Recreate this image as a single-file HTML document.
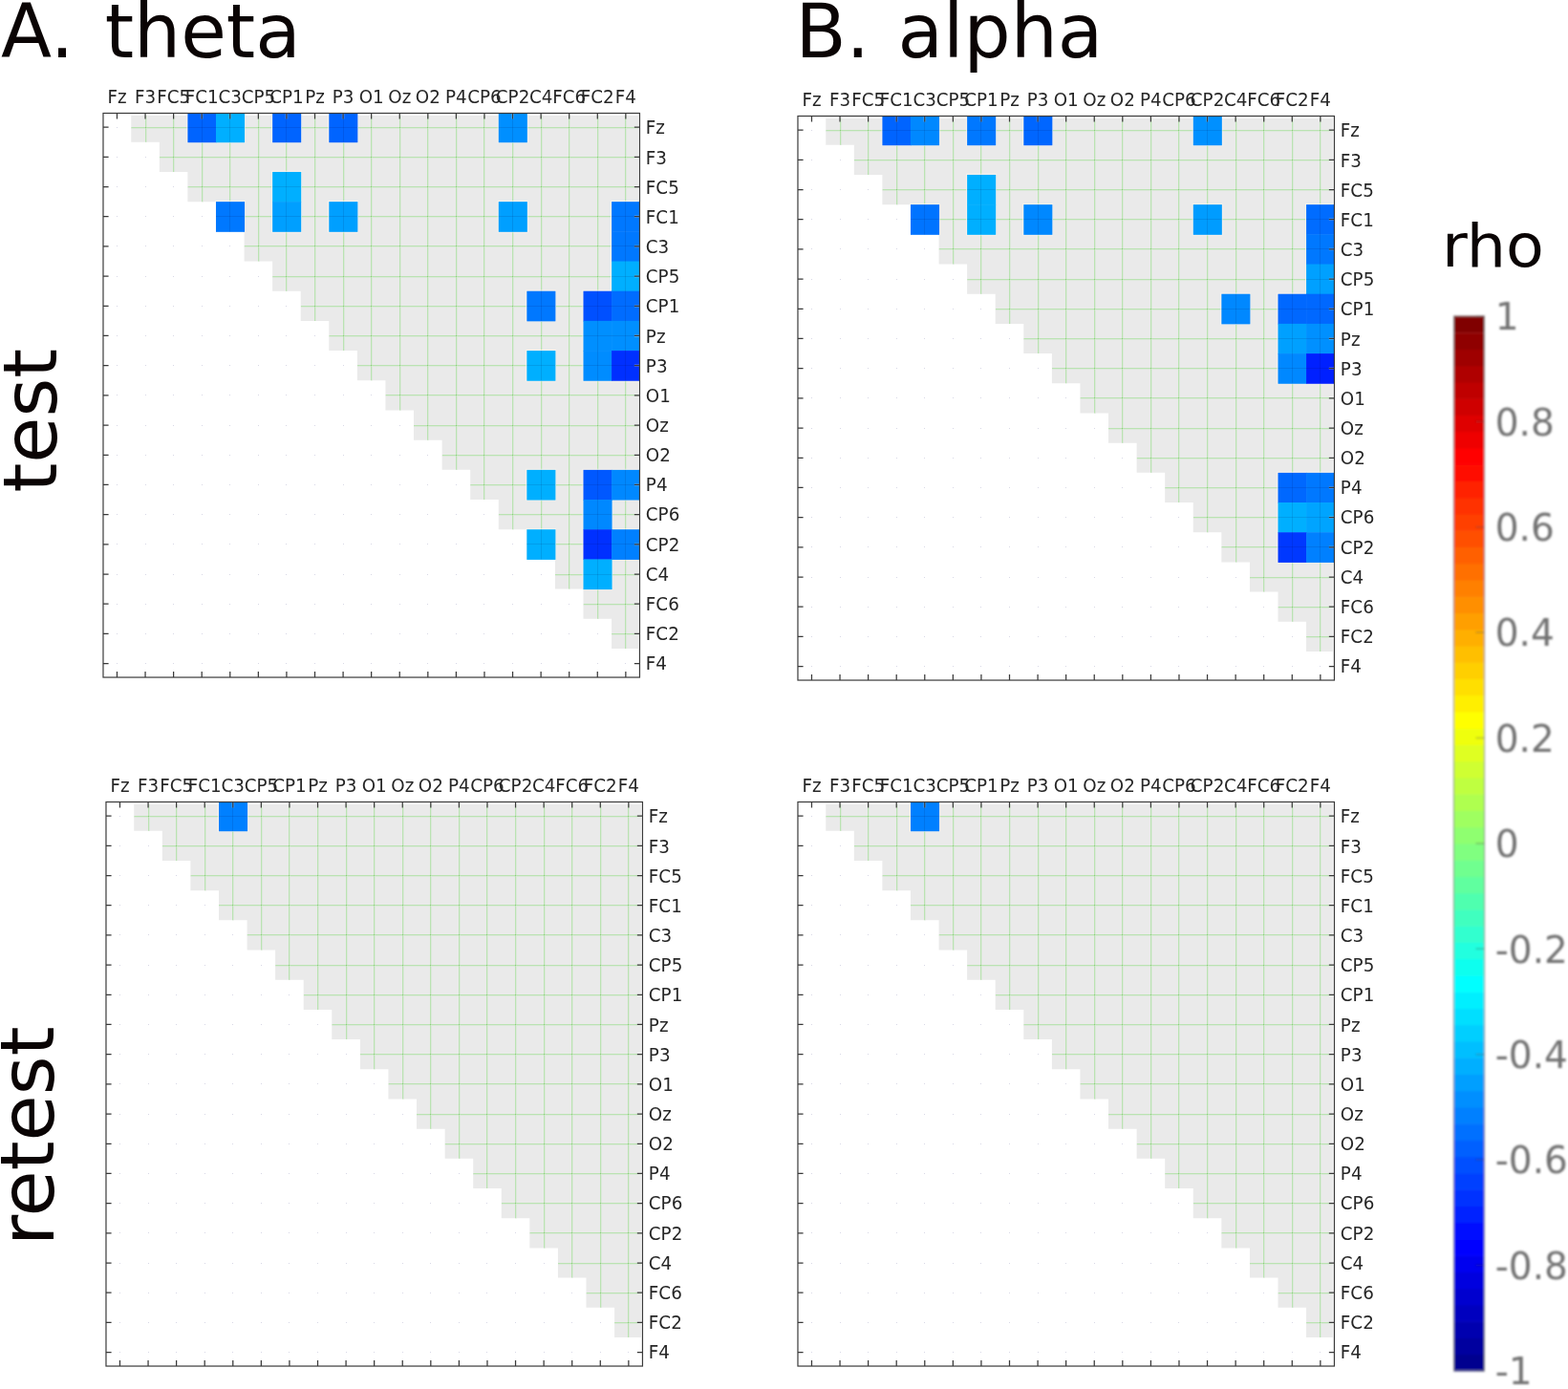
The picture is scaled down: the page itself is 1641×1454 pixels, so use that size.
<!DOCTYPE html><html><head><meta charset="utf-8"><title>theta alpha test retest</title><style>html,body{margin:0;padding:0;background:#fff;overflow:hidden}svg{display:block}text{font-family:'DejaVu Sans','Liberation Sans',sans-serif}</style></head><body>
<svg width="1641" height="1454" viewBox="0 0 1641 1454">
<defs><filter id="bl" x="-10%" y="-2%" width="120%" height="104%"><feGaussianBlur stdDeviation="1.15"/></filter><filter id="bl2" x="-10%" y="-10%" width="120%" height="120%"><feGaussianBlur stdDeviation="0.95"/></filter></defs>
<clipPath id="cAt"><polygon points="137.26,121 667.85,121 667.85,678.99 669.65,678.99 640.07,678.99 640.07,647.8 610.49,647.8 610.49,616.61 580.92,616.61 580.92,585.42 551.34,585.42 551.34,554.23 521.76,554.23 521.76,523.04 492.19,523.04 492.19,491.85 462.61,491.85 462.61,460.66 433.03,460.66 433.03,429.47 403.45,429.47 403.45,398.27 373.88,398.27 373.88,367.08 344.3,367.08 344.3,335.89 314.72,335.89 314.72,304.7 285.14,304.7 285.14,273.51 255.57,273.51 255.57,242.32 225.99,242.32 225.99,211.13 196.41,211.13 196.41,179.94 166.84,179.94 166.84,148.75 137.26,148.75 137.26,121"/></clipPath>
<polygon points="137.26,121 667.85,121 667.85,678.99 669.65,678.99 640.07,678.99 640.07,647.8 610.49,647.8 610.49,616.61 580.92,616.61 580.92,585.42 551.34,585.42 551.34,554.23 521.76,554.23 521.76,523.04 492.19,523.04 492.19,491.85 462.61,491.85 462.61,460.66 433.03,460.66 433.03,429.47 403.45,429.47 403.45,398.27 373.88,398.27 373.88,367.08 344.3,367.08 344.3,335.89 314.72,335.89 314.72,304.7 285.14,304.7 285.14,273.51 255.57,273.51 255.57,242.32 225.99,242.32 225.99,211.13 196.41,211.13 196.41,179.94 166.84,179.94 166.84,148.75 137.26,148.75 137.26,121" fill="#eaeaea"/>
<g clip-path="url(#cAt)" fill="none" stroke-width="1"><path d="M153.5 118.5V179.94M182.5 118.5V211.13M212.5 118.5V242.32M241.5 118.5V273.51M271.5 118.5V304.7M300.5 118.5V335.89M330.5 118.5V367.08M360.5 118.5V398.27M389.5 118.5V429.47M419.5 118.5V460.66M448.5 118.5V491.85M478.5 118.5V523.04M507.5 118.5V554.23M537.5 118.5V585.42M567.5 118.5V616.61M596.5 118.5V647.8M626.5 118.5V678.99M655.5 118.5V709.04M137.26 134.5H669.45M166.84 165.5H669.45M196.41 196.5H669.45M225.99 227.5H669.45M255.57 258.5H669.45M285.14 290.5H669.45M314.72 321.5H669.45M344.3 352.5H669.45M373.88 383.5H669.45M403.45 414.5H669.45M433.03 446.5H669.45M462.61 477.5H669.45M492.19 508.5H669.45M521.76 539.5H669.45M551.34 570.5H669.45M580.92 602.5H669.45M610.49 633.5H669.45M640.07 664.5H669.45" stroke="#dce8da"/><path d="M152.5 118.5V179.94M181.5 118.5V211.13M211.5 118.5V242.32M240.5 118.5V273.51M270.5 118.5V304.7M299.5 118.5V335.89M329.5 118.5V367.08M359.5 118.5V398.27M388.5 118.5V429.47M418.5 118.5V460.66M447.5 118.5V491.85M477.5 118.5V523.04M506.5 118.5V554.23M536.5 118.5V585.42M566.5 118.5V616.61M595.5 118.5V647.8M625.5 118.5V678.99M654.5 118.5V709.04M137.26 133.5H669.45M166.84 164.5H669.45M196.41 195.5H669.45M225.99 226.5H669.45M255.57 257.5H669.45M285.14 289.5H669.45M314.72 320.5H669.45M344.3 351.5H669.45M373.88 382.5H669.45M403.45 413.5H669.45M433.03 445.5H669.45M462.61 476.5H669.45M492.19 507.5H669.45M521.76 538.5H669.45M551.34 569.5H669.45M580.92 601.5H669.45M610.49 632.5H669.45M640.07 663.5H669.45" stroke="#bae3b2"/></g>
<path d="M152 133.5h1M181 133.5h1M211 133.5h1M240 133.5h1M270 133.5h1M299 133.5h1M329 133.5h1M359 133.5h1M388 133.5h1M418 133.5h1M447 133.5h1M477 133.5h1M506 133.5h1M536 133.5h1M566 133.5h1M595 133.5h1M625 133.5h1M654 133.5h1M181 164.5h1M211 164.5h1M240 164.5h1M270 164.5h1M299 164.5h1M329 164.5h1M359 164.5h1M388 164.5h1M418 164.5h1M447 164.5h1M477 164.5h1M506 164.5h1M536 164.5h1M566 164.5h1M595 164.5h1M625 164.5h1M654 164.5h1M211 195.5h1M240 195.5h1M270 195.5h1M299 195.5h1M329 195.5h1M359 195.5h1M388 195.5h1M418 195.5h1M447 195.5h1M477 195.5h1M506 195.5h1M536 195.5h1M566 195.5h1M595 195.5h1M625 195.5h1M654 195.5h1M240 226.5h1M270 226.5h1M299 226.5h1M329 226.5h1M359 226.5h1M388 226.5h1M418 226.5h1M447 226.5h1M477 226.5h1M506 226.5h1M536 226.5h1M566 226.5h1M595 226.5h1M625 226.5h1M654 226.5h1M270 257.5h1M299 257.5h1M329 257.5h1M359 257.5h1M388 257.5h1M418 257.5h1M447 257.5h1M477 257.5h1M506 257.5h1M536 257.5h1M566 257.5h1M595 257.5h1M625 257.5h1M654 257.5h1M299 289.5h1M329 289.5h1M359 289.5h1M388 289.5h1M418 289.5h1M447 289.5h1M477 289.5h1M506 289.5h1M536 289.5h1M566 289.5h1M595 289.5h1M625 289.5h1M654 289.5h1M329 320.5h1M359 320.5h1M388 320.5h1M418 320.5h1M447 320.5h1M477 320.5h1M506 320.5h1M536 320.5h1M566 320.5h1M595 320.5h1M625 320.5h1M654 320.5h1M359 351.5h1M388 351.5h1M418 351.5h1M447 351.5h1M477 351.5h1M506 351.5h1M536 351.5h1M566 351.5h1M595 351.5h1M625 351.5h1M654 351.5h1M388 382.5h1M418 382.5h1M447 382.5h1M477 382.5h1M506 382.5h1M536 382.5h1M566 382.5h1M595 382.5h1M625 382.5h1M654 382.5h1M418 413.5h1M447 413.5h1M477 413.5h1M506 413.5h1M536 413.5h1M566 413.5h1M595 413.5h1M625 413.5h1M654 413.5h1M447 445.5h1M477 445.5h1M506 445.5h1M536 445.5h1M566 445.5h1M595 445.5h1M625 445.5h1M654 445.5h1M477 476.5h1M506 476.5h1M536 476.5h1M566 476.5h1M595 476.5h1M625 476.5h1M654 476.5h1M506 507.5h1M536 507.5h1M566 507.5h1M595 507.5h1M625 507.5h1M654 507.5h1M536 538.5h1M566 538.5h1M595 538.5h1M625 538.5h1M654 538.5h1M566 569.5h1M595 569.5h1M625 569.5h1M654 569.5h1M595 601.5h1M625 601.5h1M654 601.5h1M625 632.5h1M654 632.5h1M654 663.5h1" stroke="#8ccd7c" stroke-width="1" fill="none"/>
<path d="M122 133.5h1M122 164.5h1M152 164.5h1M122 195.5h1M152 195.5h1M181 195.5h1M122 226.5h1M152 226.5h1M181 226.5h1M211 226.5h1M122 257.5h1M152 257.5h1M181 257.5h1M211 257.5h1M240 257.5h1M122 289.5h1M152 289.5h1M181 289.5h1M211 289.5h1M240 289.5h1M270 289.5h1M122 320.5h1M152 320.5h1M181 320.5h1M211 320.5h1M240 320.5h1M270 320.5h1M299 320.5h1M122 351.5h1M152 351.5h1M181 351.5h1M211 351.5h1M240 351.5h1M270 351.5h1M299 351.5h1M329 351.5h1M122 382.5h1M152 382.5h1M181 382.5h1M211 382.5h1M240 382.5h1M270 382.5h1M299 382.5h1M329 382.5h1M359 382.5h1M122 413.5h1M152 413.5h1M181 413.5h1M211 413.5h1M240 413.5h1M270 413.5h1M299 413.5h1M329 413.5h1M359 413.5h1M388 413.5h1M122 445.5h1M152 445.5h1M181 445.5h1M211 445.5h1M240 445.5h1M270 445.5h1M299 445.5h1M329 445.5h1M359 445.5h1M388 445.5h1M418 445.5h1M122 476.5h1M152 476.5h1M181 476.5h1M211 476.5h1M240 476.5h1M270 476.5h1M299 476.5h1M329 476.5h1M359 476.5h1M388 476.5h1M418 476.5h1M447 476.5h1M122 507.5h1M152 507.5h1M181 507.5h1M211 507.5h1M240 507.5h1M270 507.5h1M299 507.5h1M329 507.5h1M359 507.5h1M388 507.5h1M418 507.5h1M447 507.5h1M477 507.5h1M122 538.5h1M152 538.5h1M181 538.5h1M211 538.5h1M240 538.5h1M270 538.5h1M299 538.5h1M329 538.5h1M359 538.5h1M388 538.5h1M418 538.5h1M447 538.5h1M477 538.5h1M506 538.5h1M122 569.5h1M152 569.5h1M181 569.5h1M211 569.5h1M240 569.5h1M270 569.5h1M299 569.5h1M329 569.5h1M359 569.5h1M388 569.5h1M418 569.5h1M447 569.5h1M477 569.5h1M506 569.5h1M536 569.5h1M122 601.5h1M152 601.5h1M181 601.5h1M211 601.5h1M240 601.5h1M270 601.5h1M299 601.5h1M329 601.5h1M359 601.5h1M388 601.5h1M418 601.5h1M447 601.5h1M477 601.5h1M506 601.5h1M536 601.5h1M566 601.5h1M122 632.5h1M152 632.5h1M181 632.5h1M211 632.5h1M240 632.5h1M270 632.5h1M299 632.5h1M329 632.5h1M359 632.5h1M388 632.5h1M418 632.5h1M447 632.5h1M477 632.5h1M506 632.5h1M536 632.5h1M566 632.5h1M595 632.5h1M122 663.5h1M152 663.5h1M181 663.5h1M211 663.5h1M240 663.5h1M270 663.5h1M299 663.5h1M329 663.5h1M359 663.5h1M388 663.5h1M418 663.5h1M447 663.5h1M477 663.5h1M506 663.5h1M536 663.5h1M566 663.5h1M595 663.5h1M625 663.5h1M122 694.5h1M152 694.5h1M181 694.5h1M211 694.5h1M240 694.5h1M270 694.5h1M299 694.5h1M329 694.5h1M359 694.5h1M388 694.5h1M418 694.5h1M447 694.5h1M477 694.5h1M506 694.5h1M536 694.5h1M566 694.5h1M595 694.5h1M625 694.5h1M654 694.5h1" stroke="#d8d8e6" stroke-width="1" fill="none"/>
<path d="M196.41 118.5H225.99V148.75H196.41ZM225.99 118.5H255.57V148.75H225.99ZM285.14 118.5H314.72V148.75H285.14ZM344.3 118.5H373.88V148.75H344.3ZM521.76 118.5H551.34V148.75H521.76ZM285.14 179.94H314.72V211.13H285.14ZM225.99 211.13H255.57V242.32H225.99ZM285.14 211.13H314.72V242.32H285.14ZM344.3 211.13H373.88V242.32H344.3ZM521.76 211.13H551.34V242.32H521.76ZM640.07 211.13H669.45V242.32H640.07ZM640.07 242.32H669.45V273.51H640.07ZM640.07 273.51H669.45V304.7H640.07ZM551.34 304.7H580.92V335.89H551.34ZM610.49 304.7H640.07V335.89H610.49ZM640.07 304.7H669.45V335.89H640.07ZM610.49 335.89H640.07V367.08H610.49ZM640.07 335.89H669.45V367.08H640.07ZM551.34 367.08H580.92V398.27H551.34ZM610.49 367.08H640.07V398.27H610.49ZM640.07 367.08H669.45V398.27H640.07ZM551.34 491.85H580.92V523.04H551.34ZM610.49 491.85H640.07V523.04H610.49ZM640.07 491.85H669.45V523.04H640.07ZM610.49 523.04H640.07V554.23H610.49ZM551.34 554.23H580.92V585.42H551.34ZM610.49 554.23H640.07V585.42H610.49ZM640.07 554.23H669.45V585.42H640.07ZM610.49 585.42H640.07V616.61H610.49Z" fill="none" stroke="rgba(255,246,236,0.75)" stroke-width="2.2" clip-path="url(#cAt)"/>
<rect x="196.41" y="118.5" width="30.08" height="30.75" fill="#0064ff"/>
<rect x="225.99" y="118.5" width="30.08" height="30.75" fill="#00afff"/>
<rect x="285.14" y="118.5" width="30.08" height="30.75" fill="#0064ff"/>
<rect x="344.3" y="118.5" width="30.08" height="30.75" fill="#0064ff"/>
<rect x="521.76" y="118.5" width="30.08" height="30.75" fill="#008fff"/>
<rect x="285.14" y="179.94" width="30.08" height="31.69" fill="#00afff"/>
<rect x="225.99" y="211.13" width="30.08" height="31.69" fill="#0078ff"/>
<rect x="285.14" y="211.13" width="30.08" height="31.69" fill="#009fff"/>
<rect x="344.3" y="211.13" width="30.08" height="31.69" fill="#009fff"/>
<rect x="521.76" y="211.13" width="30.08" height="31.69" fill="#009fff"/>
<rect x="640.07" y="211.13" width="29.38" height="31.69" fill="#0078ff"/>
<rect x="640.07" y="242.32" width="29.38" height="31.69" fill="#0078ff"/>
<rect x="640.07" y="273.51" width="29.38" height="31.69" fill="#00afff"/>
<rect x="551.34" y="304.7" width="30.08" height="31.69" fill="#0078ff"/>
<rect x="610.49" y="304.7" width="30.08" height="31.69" fill="#0050ff"/>
<rect x="640.07" y="304.7" width="29.38" height="31.69" fill="#006cff"/>
<rect x="610.49" y="335.89" width="30.08" height="31.69" fill="#008fff"/>
<rect x="640.07" y="335.89" width="29.38" height="31.69" fill="#008fff"/>
<rect x="551.34" y="367.08" width="30.08" height="31.69" fill="#00afff"/>
<rect x="610.49" y="367.08" width="30.08" height="31.69" fill="#008cff"/>
<rect x="640.07" y="367.08" width="29.38" height="31.69" fill="#0030ff"/>
<rect x="551.34" y="491.85" width="30.08" height="31.69" fill="#00afff"/>
<rect x="610.49" y="491.85" width="30.08" height="31.69" fill="#0058ff"/>
<rect x="640.07" y="491.85" width="29.38" height="31.69" fill="#0088ff"/>
<rect x="610.49" y="523.04" width="30.08" height="31.69" fill="#0088ff"/>
<rect x="551.34" y="554.23" width="30.08" height="31.69" fill="#00afff"/>
<rect x="610.49" y="554.23" width="30.08" height="31.69" fill="#0030ff"/>
<rect x="640.07" y="554.23" width="29.38" height="31.69" fill="#0080ff"/>
<rect x="610.49" y="585.42" width="30.08" height="31.69" fill="#00afff"/>
<path d="M211.5 118.5V148.75M196.41 133.5H225.99" stroke="rgba(0,0,50,0.10)" stroke-width="1"/>
<path d="M240.5 118.5V148.75M225.99 133.5H255.57" stroke="rgba(0,0,50,0.10)" stroke-width="1"/>
<path d="M299.5 118.5V148.75M285.14 133.5H314.72" stroke="rgba(0,0,50,0.10)" stroke-width="1"/>
<path d="M359.5 118.5V148.75M344.3 133.5H373.88" stroke="rgba(0,0,50,0.10)" stroke-width="1"/>
<path d="M536.5 118.5V148.75M521.76 133.5H551.34" stroke="rgba(0,0,50,0.10)" stroke-width="1"/>
<path d="M299.5 179.94V211.13M285.14 195.5H314.72" stroke="rgba(0,0,50,0.10)" stroke-width="1"/>
<path d="M240.5 211.13V242.32M225.99 226.5H255.57" stroke="rgba(0,0,50,0.10)" stroke-width="1"/>
<path d="M299.5 211.13V242.32M285.14 226.5H314.72" stroke="rgba(0,0,50,0.10)" stroke-width="1"/>
<path d="M359.5 211.13V242.32M344.3 226.5H373.88" stroke="rgba(0,0,50,0.10)" stroke-width="1"/>
<path d="M536.5 211.13V242.32M521.76 226.5H551.34" stroke="rgba(0,0,50,0.10)" stroke-width="1"/>
<path d="M654.5 211.13V242.32M640.07 226.5H669.45" stroke="rgba(0,0,50,0.10)" stroke-width="1"/>
<path d="M654.5 242.32V273.51M640.07 257.5H669.45" stroke="rgba(0,0,50,0.10)" stroke-width="1"/>
<path d="M654.5 273.51V304.7M640.07 289.5H669.45" stroke="rgba(0,0,50,0.10)" stroke-width="1"/>
<path d="M566.5 304.7V335.89M551.34 320.5H580.92" stroke="rgba(0,0,50,0.10)" stroke-width="1"/>
<path d="M625.5 304.7V335.89M610.49 320.5H640.07" stroke="rgba(0,0,50,0.10)" stroke-width="1"/>
<path d="M654.5 304.7V335.89M640.07 320.5H669.45" stroke="rgba(0,0,50,0.10)" stroke-width="1"/>
<path d="M625.5 335.89V367.08M610.49 351.5H640.07" stroke="rgba(0,0,50,0.10)" stroke-width="1"/>
<path d="M654.5 335.89V367.08M640.07 351.5H669.45" stroke="rgba(0,0,50,0.10)" stroke-width="1"/>
<path d="M566.5 367.08V398.27M551.34 382.5H580.92" stroke="rgba(0,0,50,0.10)" stroke-width="1"/>
<path d="M625.5 367.08V398.27M610.49 382.5H640.07" stroke="rgba(0,0,50,0.10)" stroke-width="1"/>
<path d="M654.5 367.08V398.27M640.07 382.5H669.45" stroke="rgba(0,0,50,0.10)" stroke-width="1"/>
<path d="M566.5 491.85V523.04M551.34 507.5H580.92" stroke="rgba(0,0,50,0.10)" stroke-width="1"/>
<path d="M625.5 491.85V523.04M610.49 507.5H640.07" stroke="rgba(0,0,50,0.10)" stroke-width="1"/>
<path d="M654.5 491.85V523.04M640.07 507.5H669.45" stroke="rgba(0,0,50,0.10)" stroke-width="1"/>
<path d="M625.5 523.04V554.23M610.49 538.5H640.07" stroke="rgba(0,0,50,0.10)" stroke-width="1"/>
<path d="M566.5 554.23V585.42M551.34 569.5H580.92" stroke="rgba(0,0,50,0.10)" stroke-width="1"/>
<path d="M625.5 554.23V585.42M610.49 569.5H640.07" stroke="rgba(0,0,50,0.10)" stroke-width="1"/>
<path d="M654.5 554.23V585.42M640.07 569.5H669.45" stroke="rgba(0,0,50,0.10)" stroke-width="1"/>
<path d="M625.5 585.42V616.61M610.49 601.5H640.07" stroke="rgba(0,0,50,0.10)" stroke-width="1"/>
<path d="M122.47 118.5v6M122.47 709.04v-6M152.05 118.5v6M152.05 709.04v-6M181.62 118.5v6M181.62 709.04v-6M211.2 118.5v6M211.2 709.04v-6M240.78 118.5v6M240.78 709.04v-6M270.36 118.5v6M270.36 709.04v-6M299.93 118.5v6M299.93 709.04v-6M329.51 118.5v6M329.51 709.04v-6M359.09 118.5v6M359.09 709.04v-6M388.66 118.5v6M388.66 709.04v-6M418.24 118.5v6M418.24 709.04v-6M447.82 118.5v6M447.82 709.04v-6M477.4 118.5v6M477.4 709.04v-6M506.97 118.5v6M506.97 709.04v-6M536.55 118.5v6M536.55 709.04v-6M566.13 118.5v6M566.13 709.04v-6M595.71 118.5v6M595.71 709.04v-6M625.28 118.5v6M625.28 709.04v-6M654.86 118.5v6M654.86 709.04v-6M107.98 133.15h5.6M669.45 133.15h-5.6M107.98 164.34h5.6M669.45 164.34h-5.6M107.98 195.53h5.6M669.45 195.53h-5.6M107.98 226.72h5.6M669.45 226.72h-5.6M107.98 257.91h5.6M669.45 257.91h-5.6M107.98 289.11h5.6M669.45 289.11h-5.6M107.98 320.3h5.6M669.45 320.3h-5.6M107.98 351.49h5.6M669.45 351.49h-5.6M107.98 382.68h5.6M669.45 382.68h-5.6M107.98 413.87h5.6M669.45 413.87h-5.6M107.98 445.06h5.6M669.45 445.06h-5.6M107.98 476.25h5.6M669.45 476.25h-5.6M107.98 507.44h5.6M669.45 507.44h-5.6M107.98 538.63h5.6M669.45 538.63h-5.6M107.98 569.83h5.6M669.45 569.83h-5.6M107.98 601.02h5.6M669.45 601.02h-5.6M107.98 632.21h5.6M669.45 632.21h-5.6M107.98 663.4h5.6M669.45 663.4h-5.6M107.98 694.59h5.6M669.45 694.59h-5.6" stroke="rgba(255,255,255,0.25)" stroke-width="2.8" fill="none"/>
<path d="M122.47 118.5v6M122.47 709.04v-6M152.05 118.5v6M152.05 709.04v-6M181.62 118.5v6M181.62 709.04v-6M211.2 118.5v6M211.2 709.04v-6M240.78 118.5v6M240.78 709.04v-6M270.36 118.5v6M270.36 709.04v-6M299.93 118.5v6M299.93 709.04v-6M329.51 118.5v6M329.51 709.04v-6M359.09 118.5v6M359.09 709.04v-6M388.66 118.5v6M388.66 709.04v-6M418.24 118.5v6M418.24 709.04v-6M447.82 118.5v6M447.82 709.04v-6M477.4 118.5v6M477.4 709.04v-6M506.97 118.5v6M506.97 709.04v-6M536.55 118.5v6M536.55 709.04v-6M566.13 118.5v6M566.13 709.04v-6M595.71 118.5v6M595.71 709.04v-6M625.28 118.5v6M625.28 709.04v-6M654.86 118.5v6M654.86 709.04v-6M107.98 133.15h5.6M669.45 133.15h-5.6M107.98 164.34h5.6M669.45 164.34h-5.6M107.98 195.53h5.6M669.45 195.53h-5.6M107.98 226.72h5.6M669.45 226.72h-5.6M107.98 257.91h5.6M669.45 257.91h-5.6M107.98 289.11h5.6M669.45 289.11h-5.6M107.98 320.3h5.6M669.45 320.3h-5.6M107.98 351.49h5.6M669.45 351.49h-5.6M107.98 382.68h5.6M669.45 382.68h-5.6M107.98 413.87h5.6M669.45 413.87h-5.6M107.98 445.06h5.6M669.45 445.06h-5.6M107.98 476.25h5.6M669.45 476.25h-5.6M107.98 507.44h5.6M669.45 507.44h-5.6M107.98 538.63h5.6M669.45 538.63h-5.6M107.98 569.83h5.6M669.45 569.83h-5.6M107.98 601.02h5.6M669.45 601.02h-5.6M107.98 632.21h5.6M669.45 632.21h-5.6M107.98 663.4h5.6M669.45 663.4h-5.6M107.98 694.59h5.6M669.45 694.59h-5.6" stroke="#3a3a3a" stroke-width="1.25" fill="none"/>
<rect x="107.98" y="118.5" width="561.47" height="590.54" fill="none" stroke="#3a3a3a" stroke-width="1.2"/>
<g font-size="18.3" fill="#262626"><text transform="translate(122.47,107.5) scale(1,1.04)" text-anchor="middle">Fz</text><text transform="translate(152.05,107.5) scale(1,1.04)" text-anchor="middle">F3</text><text transform="translate(181.62,107.5) scale(1,1.04)" text-anchor="middle">FC5</text><text transform="translate(211.2,107.5) scale(1,1.04)" text-anchor="middle">FC1</text><text transform="translate(240.78,107.5) scale(1,1.04)" text-anchor="middle">C3</text><text transform="translate(270.36,107.5) scale(1,1.04)" text-anchor="middle">CP5</text><text transform="translate(299.93,107.5) scale(1,1.04)" text-anchor="middle">CP1</text><text transform="translate(329.51,107.5) scale(1,1.04)" text-anchor="middle">Pz</text><text transform="translate(359.09,107.5) scale(1,1.04)" text-anchor="middle">P3</text><text transform="translate(388.66,107.5) scale(1,1.04)" text-anchor="middle">O1</text><text transform="translate(418.24,107.5) scale(1,1.04)" text-anchor="middle">Oz</text><text transform="translate(447.82,107.5) scale(1,1.04)" text-anchor="middle">O2</text><text transform="translate(477.4,107.5) scale(1,1.04)" text-anchor="middle">P4</text><text transform="translate(506.97,107.5) scale(1,1.04)" text-anchor="middle">CP6</text><text transform="translate(536.55,107.5) scale(1,1.04)" text-anchor="middle">CP2</text><text transform="translate(566.13,107.5) scale(1,1.04)" text-anchor="middle">C4</text><text transform="translate(595.71,107.5) scale(1,1.04)" text-anchor="middle">FC6</text><text transform="translate(625.28,107.5) scale(1,1.04)" text-anchor="middle">FC2</text><text transform="translate(654.86,107.5) scale(1,1.04)" text-anchor="middle">F4</text><text transform="translate(675.85,140.45) scale(1,1.04)">Fz</text><text transform="translate(675.85,171.6) scale(1,1.04)">F3</text><text transform="translate(675.85,202.75) scale(1,1.04)">FC5</text><text transform="translate(675.85,233.91) scale(1,1.04)">FC1</text><text transform="translate(675.85,265.06) scale(1,1.04)">C3</text><text transform="translate(675.85,296.21) scale(1,1.04)">CP5</text><text transform="translate(675.85,327.36) scale(1,1.04)">CP1</text><text transform="translate(675.85,358.52) scale(1,1.04)">Pz</text><text transform="translate(675.85,389.67) scale(1,1.04)">P3</text><text transform="translate(675.85,420.82) scale(1,1.04)">O1</text><text transform="translate(675.85,451.97) scale(1,1.04)">Oz</text><text transform="translate(675.85,483.12) scale(1,1.04)">O2</text><text transform="translate(675.85,514.28) scale(1,1.04)">P4</text><text transform="translate(675.85,545.43) scale(1,1.04)">CP6</text><text transform="translate(675.85,576.58) scale(1,1.04)">CP2</text><text transform="translate(675.85,607.73) scale(1,1.04)">C4</text><text transform="translate(675.85,638.89) scale(1,1.04)">FC6</text><text transform="translate(675.85,670.04) scale(1,1.04)">FC2</text><text transform="translate(675.85,701.19) scale(1,1.04)">F4</text></g>
<clipPath id="cBt"><polygon points="864.26,124 1394.85,124 1394.85,681.99 1396.65,681.99 1367.07,681.99 1367.07,650.8 1337.49,650.8 1337.49,619.61 1307.92,619.61 1307.92,588.42 1278.34,588.42 1278.34,557.23 1248.76,557.23 1248.76,526.04 1219.19,526.04 1219.19,494.85 1189.61,494.85 1189.61,463.66 1160.03,463.66 1160.03,432.47 1130.45,432.47 1130.45,401.27 1100.88,401.27 1100.88,370.08 1071.3,370.08 1071.3,338.89 1041.72,338.89 1041.72,307.7 1012.14,307.7 1012.14,276.51 982.57,276.51 982.57,245.32 952.99,245.32 952.99,214.13 923.41,214.13 923.41,182.94 893.84,182.94 893.84,151.75 864.26,151.75 864.26,124"/></clipPath>
<polygon points="864.26,124 1394.85,124 1394.85,681.99 1396.65,681.99 1367.07,681.99 1367.07,650.8 1337.49,650.8 1337.49,619.61 1307.92,619.61 1307.92,588.42 1278.34,588.42 1278.34,557.23 1248.76,557.23 1248.76,526.04 1219.19,526.04 1219.19,494.85 1189.61,494.85 1189.61,463.66 1160.03,463.66 1160.03,432.47 1130.45,432.47 1130.45,401.27 1100.88,401.27 1100.88,370.08 1071.3,370.08 1071.3,338.89 1041.72,338.89 1041.72,307.7 1012.14,307.7 1012.14,276.51 982.57,276.51 982.57,245.32 952.99,245.32 952.99,214.13 923.41,214.13 923.41,182.94 893.84,182.94 893.84,151.75 864.26,151.75 864.26,124" fill="#eaeaea"/>
<g clip-path="url(#cBt)" fill="none" stroke-width="1"><path d="M880.5 121.5V182.94M909.5 121.5V214.13M939.5 121.5V245.32M968.5 121.5V276.51M998.5 121.5V307.7M1027.5 121.5V338.89M1057.5 121.5V370.08M1087.5 121.5V401.27M1116.5 121.5V432.47M1146.5 121.5V463.66M1175.5 121.5V494.85M1205.5 121.5V526.04M1234.5 121.5V557.23M1264.5 121.5V588.42M1294.5 121.5V619.61M1323.5 121.5V650.8M1353.5 121.5V681.99M1382.5 121.5V712.04M864.26 137.5H1396.45M893.84 168.5H1396.45M923.41 199.5H1396.45M952.99 230.5H1396.45M982.57 261.5H1396.45M1012.14 293.5H1396.45M1041.72 324.5H1396.45M1071.3 355.5H1396.45M1100.88 386.5H1396.45M1130.45 417.5H1396.45M1160.03 449.5H1396.45M1189.61 480.5H1396.45M1219.19 511.5H1396.45M1248.76 542.5H1396.45M1278.34 573.5H1396.45M1307.92 605.5H1396.45M1337.49 636.5H1396.45M1367.07 667.5H1396.45" stroke="#dce8da"/><path d="M879.5 121.5V182.94M908.5 121.5V214.13M938.5 121.5V245.32M967.5 121.5V276.51M997.5 121.5V307.7M1026.5 121.5V338.89M1056.5 121.5V370.08M1086.5 121.5V401.27M1115.5 121.5V432.47M1145.5 121.5V463.66M1174.5 121.5V494.85M1204.5 121.5V526.04M1233.5 121.5V557.23M1263.5 121.5V588.42M1293.5 121.5V619.61M1322.5 121.5V650.8M1352.5 121.5V681.99M1381.5 121.5V712.04M864.26 136.5H1396.45M893.84 167.5H1396.45M923.41 198.5H1396.45M952.99 229.5H1396.45M982.57 260.5H1396.45M1012.14 292.5H1396.45M1041.72 323.5H1396.45M1071.3 354.5H1396.45M1100.88 385.5H1396.45M1130.45 416.5H1396.45M1160.03 448.5H1396.45M1189.61 479.5H1396.45M1219.19 510.5H1396.45M1248.76 541.5H1396.45M1278.34 572.5H1396.45M1307.92 604.5H1396.45M1337.49 635.5H1396.45M1367.07 666.5H1396.45" stroke="#bae3b2"/></g>
<path d="M879 136.5h1M908 136.5h1M938 136.5h1M967 136.5h1M997 136.5h1M1026 136.5h1M1056 136.5h1M1086 136.5h1M1115 136.5h1M1145 136.5h1M1174 136.5h1M1204 136.5h1M1233 136.5h1M1263 136.5h1M1293 136.5h1M1322 136.5h1M1352 136.5h1M1381 136.5h1M908 167.5h1M938 167.5h1M967 167.5h1M997 167.5h1M1026 167.5h1M1056 167.5h1M1086 167.5h1M1115 167.5h1M1145 167.5h1M1174 167.5h1M1204 167.5h1M1233 167.5h1M1263 167.5h1M1293 167.5h1M1322 167.5h1M1352 167.5h1M1381 167.5h1M938 198.5h1M967 198.5h1M997 198.5h1M1026 198.5h1M1056 198.5h1M1086 198.5h1M1115 198.5h1M1145 198.5h1M1174 198.5h1M1204 198.5h1M1233 198.5h1M1263 198.5h1M1293 198.5h1M1322 198.5h1M1352 198.5h1M1381 198.5h1M967 229.5h1M997 229.5h1M1026 229.5h1M1056 229.5h1M1086 229.5h1M1115 229.5h1M1145 229.5h1M1174 229.5h1M1204 229.5h1M1233 229.5h1M1263 229.5h1M1293 229.5h1M1322 229.5h1M1352 229.5h1M1381 229.5h1M997 260.5h1M1026 260.5h1M1056 260.5h1M1086 260.5h1M1115 260.5h1M1145 260.5h1M1174 260.5h1M1204 260.5h1M1233 260.5h1M1263 260.5h1M1293 260.5h1M1322 260.5h1M1352 260.5h1M1381 260.5h1M1026 292.5h1M1056 292.5h1M1086 292.5h1M1115 292.5h1M1145 292.5h1M1174 292.5h1M1204 292.5h1M1233 292.5h1M1263 292.5h1M1293 292.5h1M1322 292.5h1M1352 292.5h1M1381 292.5h1M1056 323.5h1M1086 323.5h1M1115 323.5h1M1145 323.5h1M1174 323.5h1M1204 323.5h1M1233 323.5h1M1263 323.5h1M1293 323.5h1M1322 323.5h1M1352 323.5h1M1381 323.5h1M1086 354.5h1M1115 354.5h1M1145 354.5h1M1174 354.5h1M1204 354.5h1M1233 354.5h1M1263 354.5h1M1293 354.5h1M1322 354.5h1M1352 354.5h1M1381 354.5h1M1115 385.5h1M1145 385.5h1M1174 385.5h1M1204 385.5h1M1233 385.5h1M1263 385.5h1M1293 385.5h1M1322 385.5h1M1352 385.5h1M1381 385.5h1M1145 416.5h1M1174 416.5h1M1204 416.5h1M1233 416.5h1M1263 416.5h1M1293 416.5h1M1322 416.5h1M1352 416.5h1M1381 416.5h1M1174 448.5h1M1204 448.5h1M1233 448.5h1M1263 448.5h1M1293 448.5h1M1322 448.5h1M1352 448.5h1M1381 448.5h1M1204 479.5h1M1233 479.5h1M1263 479.5h1M1293 479.5h1M1322 479.5h1M1352 479.5h1M1381 479.5h1M1233 510.5h1M1263 510.5h1M1293 510.5h1M1322 510.5h1M1352 510.5h1M1381 510.5h1M1263 541.5h1M1293 541.5h1M1322 541.5h1M1352 541.5h1M1381 541.5h1M1293 572.5h1M1322 572.5h1M1352 572.5h1M1381 572.5h1M1322 604.5h1M1352 604.5h1M1381 604.5h1M1352 635.5h1M1381 635.5h1M1381 666.5h1" stroke="#8ccd7c" stroke-width="1" fill="none"/>
<path d="M849 136.5h1M849 167.5h1M879 167.5h1M849 198.5h1M879 198.5h1M908 198.5h1M849 229.5h1M879 229.5h1M908 229.5h1M938 229.5h1M849 260.5h1M879 260.5h1M908 260.5h1M938 260.5h1M967 260.5h1M849 292.5h1M879 292.5h1M908 292.5h1M938 292.5h1M967 292.5h1M997 292.5h1M849 323.5h1M879 323.5h1M908 323.5h1M938 323.5h1M967 323.5h1M997 323.5h1M1026 323.5h1M849 354.5h1M879 354.5h1M908 354.5h1M938 354.5h1M967 354.5h1M997 354.5h1M1026 354.5h1M1056 354.5h1M849 385.5h1M879 385.5h1M908 385.5h1M938 385.5h1M967 385.5h1M997 385.5h1M1026 385.5h1M1056 385.5h1M1086 385.5h1M849 416.5h1M879 416.5h1M908 416.5h1M938 416.5h1M967 416.5h1M997 416.5h1M1026 416.5h1M1056 416.5h1M1086 416.5h1M1115 416.5h1M849 448.5h1M879 448.5h1M908 448.5h1M938 448.5h1M967 448.5h1M997 448.5h1M1026 448.5h1M1056 448.5h1M1086 448.5h1M1115 448.5h1M1145 448.5h1M849 479.5h1M879 479.5h1M908 479.5h1M938 479.5h1M967 479.5h1M997 479.5h1M1026 479.5h1M1056 479.5h1M1086 479.5h1M1115 479.5h1M1145 479.5h1M1174 479.5h1M849 510.5h1M879 510.5h1M908 510.5h1M938 510.5h1M967 510.5h1M997 510.5h1M1026 510.5h1M1056 510.5h1M1086 510.5h1M1115 510.5h1M1145 510.5h1M1174 510.5h1M1204 510.5h1M849 541.5h1M879 541.5h1M908 541.5h1M938 541.5h1M967 541.5h1M997 541.5h1M1026 541.5h1M1056 541.5h1M1086 541.5h1M1115 541.5h1M1145 541.5h1M1174 541.5h1M1204 541.5h1M1233 541.5h1M849 572.5h1M879 572.5h1M908 572.5h1M938 572.5h1M967 572.5h1M997 572.5h1M1026 572.5h1M1056 572.5h1M1086 572.5h1M1115 572.5h1M1145 572.5h1M1174 572.5h1M1204 572.5h1M1233 572.5h1M1263 572.5h1M849 604.5h1M879 604.5h1M908 604.5h1M938 604.5h1M967 604.5h1M997 604.5h1M1026 604.5h1M1056 604.5h1M1086 604.5h1M1115 604.5h1M1145 604.5h1M1174 604.5h1M1204 604.5h1M1233 604.5h1M1263 604.5h1M1293 604.5h1M849 635.5h1M879 635.5h1M908 635.5h1M938 635.5h1M967 635.5h1M997 635.5h1M1026 635.5h1M1056 635.5h1M1086 635.5h1M1115 635.5h1M1145 635.5h1M1174 635.5h1M1204 635.5h1M1233 635.5h1M1263 635.5h1M1293 635.5h1M1322 635.5h1M849 666.5h1M879 666.5h1M908 666.5h1M938 666.5h1M967 666.5h1M997 666.5h1M1026 666.5h1M1056 666.5h1M1086 666.5h1M1115 666.5h1M1145 666.5h1M1174 666.5h1M1204 666.5h1M1233 666.5h1M1263 666.5h1M1293 666.5h1M1322 666.5h1M1352 666.5h1M849 697.5h1M879 697.5h1M908 697.5h1M938 697.5h1M967 697.5h1M997 697.5h1M1026 697.5h1M1056 697.5h1M1086 697.5h1M1115 697.5h1M1145 697.5h1M1174 697.5h1M1204 697.5h1M1233 697.5h1M1263 697.5h1M1293 697.5h1M1322 697.5h1M1352 697.5h1M1381 697.5h1" stroke="#d8d8e6" stroke-width="1" fill="none"/>
<path d="M923.41 121.5H952.99V151.75H923.41ZM952.99 121.5H982.57V151.75H952.99ZM1012.14 121.5H1041.72V151.75H1012.14ZM1071.3 121.5H1100.88V151.75H1071.3ZM1248.76 121.5H1278.34V151.75H1248.76ZM1012.14 182.94H1041.72V214.13H1012.14ZM952.99 214.13H982.57V245.32H952.99ZM1012.14 214.13H1041.72V245.32H1012.14ZM1071.3 214.13H1100.88V245.32H1071.3ZM1248.76 214.13H1278.34V245.32H1248.76ZM1367.07 214.13H1396.45V245.32H1367.07ZM1367.07 245.32H1396.45V276.51H1367.07ZM1367.07 276.51H1396.45V307.7H1367.07ZM1278.34 307.7H1307.92V338.89H1278.34ZM1337.49 307.7H1367.07V338.89H1337.49ZM1367.07 307.7H1396.45V338.89H1367.07ZM1337.49 338.89H1367.07V370.08H1337.49ZM1367.07 338.89H1396.45V370.08H1367.07ZM1337.49 370.08H1367.07V401.27H1337.49ZM1367.07 370.08H1396.45V401.27H1367.07ZM1337.49 494.85H1367.07V526.04H1337.49ZM1367.07 494.85H1396.45V526.04H1367.07ZM1337.49 526.04H1367.07V557.23H1337.49ZM1367.07 526.04H1396.45V557.23H1367.07ZM1337.49 557.23H1367.07V588.42H1337.49ZM1367.07 557.23H1396.45V588.42H1367.07Z" fill="none" stroke="rgba(255,246,236,0.75)" stroke-width="2.2" clip-path="url(#cBt)"/>
<rect x="923.41" y="121.5" width="30.08" height="30.75" fill="#0064ff"/>
<rect x="952.99" y="121.5" width="30.08" height="30.75" fill="#0088ff"/>
<rect x="1012.14" y="121.5" width="30.08" height="30.75" fill="#0078ff"/>
<rect x="1071.3" y="121.5" width="30.08" height="30.75" fill="#0066ff"/>
<rect x="1248.76" y="121.5" width="30.08" height="30.75" fill="#0090ff"/>
<rect x="1012.14" y="182.94" width="30.08" height="31.69" fill="#00afff"/>
<rect x="952.99" y="214.13" width="30.08" height="31.69" fill="#0074ff"/>
<rect x="1012.14" y="214.13" width="30.08" height="31.69" fill="#00afff"/>
<rect x="1071.3" y="214.13" width="30.08" height="31.69" fill="#0088ff"/>
<rect x="1248.76" y="214.13" width="30.08" height="31.69" fill="#009cff"/>
<rect x="1367.07" y="214.13" width="29.38" height="31.69" fill="#006cff"/>
<rect x="1367.07" y="245.32" width="29.38" height="31.69" fill="#0078ff"/>
<rect x="1367.07" y="276.51" width="29.38" height="31.69" fill="#00a0ff"/>
<rect x="1278.34" y="307.7" width="30.08" height="31.69" fill="#0088ff"/>
<rect x="1337.49" y="307.7" width="30.08" height="31.69" fill="#0068ff"/>
<rect x="1367.07" y="307.7" width="29.38" height="31.69" fill="#0068ff"/>
<rect x="1337.49" y="338.89" width="30.08" height="31.69" fill="#00a0ff"/>
<rect x="1367.07" y="338.89" width="29.38" height="31.69" fill="#0090ff"/>
<rect x="1337.49" y="370.08" width="30.08" height="31.69" fill="#0088ff"/>
<rect x="1367.07" y="370.08" width="29.38" height="31.69" fill="#0020ff"/>
<rect x="1337.49" y="494.85" width="30.08" height="31.69" fill="#0068ff"/>
<rect x="1367.07" y="494.85" width="29.38" height="31.69" fill="#0078ff"/>
<rect x="1337.49" y="526.04" width="30.08" height="31.69" fill="#00afff"/>
<rect x="1367.07" y="526.04" width="29.38" height="31.69" fill="#00a4ff"/>
<rect x="1337.49" y="557.23" width="30.08" height="31.69" fill="#0038ff"/>
<rect x="1367.07" y="557.23" width="29.38" height="31.69" fill="#0080ff"/>
<path d="M938.5 121.5V151.75M923.41 136.5H952.99" stroke="rgba(0,0,50,0.10)" stroke-width="1"/>
<path d="M967.5 121.5V151.75M952.99 136.5H982.57" stroke="rgba(0,0,50,0.10)" stroke-width="1"/>
<path d="M1026.5 121.5V151.75M1012.14 136.5H1041.72" stroke="rgba(0,0,50,0.10)" stroke-width="1"/>
<path d="M1086.5 121.5V151.75M1071.3 136.5H1100.88" stroke="rgba(0,0,50,0.10)" stroke-width="1"/>
<path d="M1263.5 121.5V151.75M1248.76 136.5H1278.34" stroke="rgba(0,0,50,0.10)" stroke-width="1"/>
<path d="M1026.5 182.94V214.13M1012.14 198.5H1041.72" stroke="rgba(0,0,50,0.10)" stroke-width="1"/>
<path d="M967.5 214.13V245.32M952.99 229.5H982.57" stroke="rgba(0,0,50,0.10)" stroke-width="1"/>
<path d="M1026.5 214.13V245.32M1012.14 229.5H1041.72" stroke="rgba(0,0,50,0.10)" stroke-width="1"/>
<path d="M1086.5 214.13V245.32M1071.3 229.5H1100.88" stroke="rgba(0,0,50,0.10)" stroke-width="1"/>
<path d="M1263.5 214.13V245.32M1248.76 229.5H1278.34" stroke="rgba(0,0,50,0.10)" stroke-width="1"/>
<path d="M1381.5 214.13V245.32M1367.07 229.5H1396.45" stroke="rgba(0,0,50,0.10)" stroke-width="1"/>
<path d="M1381.5 245.32V276.51M1367.07 260.5H1396.45" stroke="rgba(0,0,50,0.10)" stroke-width="1"/>
<path d="M1381.5 276.51V307.7M1367.07 292.5H1396.45" stroke="rgba(0,0,50,0.10)" stroke-width="1"/>
<path d="M1293.5 307.7V338.89M1278.34 323.5H1307.92" stroke="rgba(0,0,50,0.10)" stroke-width="1"/>
<path d="M1352.5 307.7V338.89M1337.49 323.5H1367.07" stroke="rgba(0,0,50,0.10)" stroke-width="1"/>
<path d="M1381.5 307.7V338.89M1367.07 323.5H1396.45" stroke="rgba(0,0,50,0.10)" stroke-width="1"/>
<path d="M1352.5 338.89V370.08M1337.49 354.5H1367.07" stroke="rgba(0,0,50,0.10)" stroke-width="1"/>
<path d="M1381.5 338.89V370.08M1367.07 354.5H1396.45" stroke="rgba(0,0,50,0.10)" stroke-width="1"/>
<path d="M1352.5 370.08V401.27M1337.49 385.5H1367.07" stroke="rgba(0,0,50,0.10)" stroke-width="1"/>
<path d="M1381.5 370.08V401.27M1367.07 385.5H1396.45" stroke="rgba(0,0,50,0.10)" stroke-width="1"/>
<path d="M1352.5 494.85V526.04M1337.49 510.5H1367.07" stroke="rgba(0,0,50,0.10)" stroke-width="1"/>
<path d="M1381.5 494.85V526.04M1367.07 510.5H1396.45" stroke="rgba(0,0,50,0.10)" stroke-width="1"/>
<path d="M1352.5 526.04V557.23M1337.49 541.5H1367.07" stroke="rgba(0,0,50,0.10)" stroke-width="1"/>
<path d="M1381.5 526.04V557.23M1367.07 541.5H1396.45" stroke="rgba(0,0,50,0.10)" stroke-width="1"/>
<path d="M1352.5 557.23V588.42M1337.49 572.5H1367.07" stroke="rgba(0,0,50,0.10)" stroke-width="1"/>
<path d="M1381.5 557.23V588.42M1367.07 572.5H1396.45" stroke="rgba(0,0,50,0.10)" stroke-width="1"/>
<path d="M849.47 121.5v6M849.47 712.04v-6M879.05 121.5v6M879.05 712.04v-6M908.62 121.5v6M908.62 712.04v-6M938.2 121.5v6M938.2 712.04v-6M967.78 121.5v6M967.78 712.04v-6M997.36 121.5v6M997.36 712.04v-6M1026.93 121.5v6M1026.93 712.04v-6M1056.51 121.5v6M1056.51 712.04v-6M1086.09 121.5v6M1086.09 712.04v-6M1115.66 121.5v6M1115.66 712.04v-6M1145.24 121.5v6M1145.24 712.04v-6M1174.82 121.5v6M1174.82 712.04v-6M1204.4 121.5v6M1204.4 712.04v-6M1233.97 121.5v6M1233.97 712.04v-6M1263.55 121.5v6M1263.55 712.04v-6M1293.13 121.5v6M1293.13 712.04v-6M1322.71 121.5v6M1322.71 712.04v-6M1352.28 121.5v6M1352.28 712.04v-6M1381.86 121.5v6M1381.86 712.04v-6M834.98 136.15h5.6M1396.45 136.15h-5.6M834.98 167.34h5.6M1396.45 167.34h-5.6M834.98 198.53h5.6M1396.45 198.53h-5.6M834.98 229.72h5.6M1396.45 229.72h-5.6M834.98 260.91h5.6M1396.45 260.91h-5.6M834.98 292.11h5.6M1396.45 292.11h-5.6M834.98 323.3h5.6M1396.45 323.3h-5.6M834.98 354.49h5.6M1396.45 354.49h-5.6M834.98 385.68h5.6M1396.45 385.68h-5.6M834.98 416.87h5.6M1396.45 416.87h-5.6M834.98 448.06h5.6M1396.45 448.06h-5.6M834.98 479.25h5.6M1396.45 479.25h-5.6M834.98 510.44h5.6M1396.45 510.44h-5.6M834.98 541.63h5.6M1396.45 541.63h-5.6M834.98 572.83h5.6M1396.45 572.83h-5.6M834.98 604.02h5.6M1396.45 604.02h-5.6M834.98 635.21h5.6M1396.45 635.21h-5.6M834.98 666.4h5.6M1396.45 666.4h-5.6M834.98 697.59h5.6M1396.45 697.59h-5.6" stroke="rgba(255,255,255,0.25)" stroke-width="2.8" fill="none"/>
<path d="M849.47 121.5v6M849.47 712.04v-6M879.05 121.5v6M879.05 712.04v-6M908.62 121.5v6M908.62 712.04v-6M938.2 121.5v6M938.2 712.04v-6M967.78 121.5v6M967.78 712.04v-6M997.36 121.5v6M997.36 712.04v-6M1026.93 121.5v6M1026.93 712.04v-6M1056.51 121.5v6M1056.51 712.04v-6M1086.09 121.5v6M1086.09 712.04v-6M1115.66 121.5v6M1115.66 712.04v-6M1145.24 121.5v6M1145.24 712.04v-6M1174.82 121.5v6M1174.82 712.04v-6M1204.4 121.5v6M1204.4 712.04v-6M1233.97 121.5v6M1233.97 712.04v-6M1263.55 121.5v6M1263.55 712.04v-6M1293.13 121.5v6M1293.13 712.04v-6M1322.71 121.5v6M1322.71 712.04v-6M1352.28 121.5v6M1352.28 712.04v-6M1381.86 121.5v6M1381.86 712.04v-6M834.98 136.15h5.6M1396.45 136.15h-5.6M834.98 167.34h5.6M1396.45 167.34h-5.6M834.98 198.53h5.6M1396.45 198.53h-5.6M834.98 229.72h5.6M1396.45 229.72h-5.6M834.98 260.91h5.6M1396.45 260.91h-5.6M834.98 292.11h5.6M1396.45 292.11h-5.6M834.98 323.3h5.6M1396.45 323.3h-5.6M834.98 354.49h5.6M1396.45 354.49h-5.6M834.98 385.68h5.6M1396.45 385.68h-5.6M834.98 416.87h5.6M1396.45 416.87h-5.6M834.98 448.06h5.6M1396.45 448.06h-5.6M834.98 479.25h5.6M1396.45 479.25h-5.6M834.98 510.44h5.6M1396.45 510.44h-5.6M834.98 541.63h5.6M1396.45 541.63h-5.6M834.98 572.83h5.6M1396.45 572.83h-5.6M834.98 604.02h5.6M1396.45 604.02h-5.6M834.98 635.21h5.6M1396.45 635.21h-5.6M834.98 666.4h5.6M1396.45 666.4h-5.6M834.98 697.59h5.6M1396.45 697.59h-5.6" stroke="#3a3a3a" stroke-width="1.25" fill="none"/>
<rect x="834.98" y="121.5" width="561.47" height="590.54" fill="none" stroke="#3a3a3a" stroke-width="1.2"/>
<g font-size="18.3" fill="#262626"><text transform="translate(849.47,110.5) scale(1,1.04)" text-anchor="middle">Fz</text><text transform="translate(879.05,110.5) scale(1,1.04)" text-anchor="middle">F3</text><text transform="translate(908.62,110.5) scale(1,1.04)" text-anchor="middle">FC5</text><text transform="translate(938.2,110.5) scale(1,1.04)" text-anchor="middle">FC1</text><text transform="translate(967.78,110.5) scale(1,1.04)" text-anchor="middle">C3</text><text transform="translate(997.36,110.5) scale(1,1.04)" text-anchor="middle">CP5</text><text transform="translate(1026.93,110.5) scale(1,1.04)" text-anchor="middle">CP1</text><text transform="translate(1056.51,110.5) scale(1,1.04)" text-anchor="middle">Pz</text><text transform="translate(1086.09,110.5) scale(1,1.04)" text-anchor="middle">P3</text><text transform="translate(1115.66,110.5) scale(1,1.04)" text-anchor="middle">O1</text><text transform="translate(1145.24,110.5) scale(1,1.04)" text-anchor="middle">Oz</text><text transform="translate(1174.82,110.5) scale(1,1.04)" text-anchor="middle">O2</text><text transform="translate(1204.4,110.5) scale(1,1.04)" text-anchor="middle">P4</text><text transform="translate(1233.97,110.5) scale(1,1.04)" text-anchor="middle">CP6</text><text transform="translate(1263.55,110.5) scale(1,1.04)" text-anchor="middle">CP2</text><text transform="translate(1293.13,110.5) scale(1,1.04)" text-anchor="middle">C4</text><text transform="translate(1322.71,110.5) scale(1,1.04)" text-anchor="middle">FC6</text><text transform="translate(1352.28,110.5) scale(1,1.04)" text-anchor="middle">FC2</text><text transform="translate(1381.86,110.5) scale(1,1.04)" text-anchor="middle">F4</text><text transform="translate(1402.85,143.45) scale(1,1.04)">Fz</text><text transform="translate(1402.85,174.6) scale(1,1.04)">F3</text><text transform="translate(1402.85,205.75) scale(1,1.04)">FC5</text><text transform="translate(1402.85,236.91) scale(1,1.04)">FC1</text><text transform="translate(1402.85,268.06) scale(1,1.04)">C3</text><text transform="translate(1402.85,299.21) scale(1,1.04)">CP5</text><text transform="translate(1402.85,330.36) scale(1,1.04)">CP1</text><text transform="translate(1402.85,361.52) scale(1,1.04)">Pz</text><text transform="translate(1402.85,392.67) scale(1,1.04)">P3</text><text transform="translate(1402.85,423.82) scale(1,1.04)">O1</text><text transform="translate(1402.85,454.97) scale(1,1.04)">Oz</text><text transform="translate(1402.85,486.12) scale(1,1.04)">O2</text><text transform="translate(1402.85,517.28) scale(1,1.04)">P4</text><text transform="translate(1402.85,548.43) scale(1,1.04)">CP6</text><text transform="translate(1402.85,579.58) scale(1,1.04)">CP2</text><text transform="translate(1402.85,610.73) scale(1,1.04)">C4</text><text transform="translate(1402.85,641.89) scale(1,1.04)">FC6</text><text transform="translate(1402.85,673.04) scale(1,1.04)">FC2</text><text transform="translate(1402.85,704.19) scale(1,1.04)">F4</text></g>
<clipPath id="cAr"><polygon points="140.26,842 670.85,842 670.85,1399.99 672.65,1399.99 643.07,1399.99 643.07,1368.8 613.49,1368.8 613.49,1337.61 583.92,1337.61 583.92,1306.42 554.34,1306.42 554.34,1275.23 524.76,1275.23 524.76,1244.04 495.19,1244.04 495.19,1212.85 465.61,1212.85 465.61,1181.66 436.03,1181.66 436.03,1150.47 406.45,1150.47 406.45,1119.27 376.88,1119.27 376.88,1088.08 347.3,1088.08 347.3,1056.89 317.72,1056.89 317.72,1025.7 288.14,1025.7 288.14,994.51 258.57,994.51 258.57,963.32 228.99,963.32 228.99,932.13 199.41,932.13 199.41,900.94 169.84,900.94 169.84,869.75 140.26,869.75 140.26,842"/></clipPath>
<polygon points="140.26,842 670.85,842 670.85,1399.99 672.65,1399.99 643.07,1399.99 643.07,1368.8 613.49,1368.8 613.49,1337.61 583.92,1337.61 583.92,1306.42 554.34,1306.42 554.34,1275.23 524.76,1275.23 524.76,1244.04 495.19,1244.04 495.19,1212.85 465.61,1212.85 465.61,1181.66 436.03,1181.66 436.03,1150.47 406.45,1150.47 406.45,1119.27 376.88,1119.27 376.88,1088.08 347.3,1088.08 347.3,1056.89 317.72,1056.89 317.72,1025.7 288.14,1025.7 288.14,994.51 258.57,994.51 258.57,963.32 228.99,963.32 228.99,932.13 199.41,932.13 199.41,900.94 169.84,900.94 169.84,869.75 140.26,869.75 140.26,842" fill="#eaeaea"/>
<g clip-path="url(#cAr)" fill="none" stroke-width="1"><path d="M156.5 839.5V900.94M185.5 839.5V932.13M215.5 839.5V963.32M244.5 839.5V994.51M274.5 839.5V1025.7M303.5 839.5V1056.89M333.5 839.5V1088.08M363.5 839.5V1119.27M392.5 839.5V1150.47M422.5 839.5V1181.66M451.5 839.5V1212.85M481.5 839.5V1244.04M510.5 839.5V1275.23M540.5 839.5V1306.42M570.5 839.5V1337.61M599.5 839.5V1368.8M629.5 839.5V1399.99M658.5 839.5V1430.04M140.26 855.5H672.45M169.84 886.5H672.45M199.41 917.5H672.45M228.99 948.5H672.45M258.57 979.5H672.45M288.14 1011.5H672.45M317.72 1042.5H672.45M347.3 1073.5H672.45M376.88 1104.5H672.45M406.45 1135.5H672.45M436.03 1167.5H672.45M465.61 1198.5H672.45M495.19 1229.5H672.45M524.76 1260.5H672.45M554.34 1291.5H672.45M583.92 1323.5H672.45M613.49 1354.5H672.45M643.07 1385.5H672.45" stroke="#dce8da"/><path d="M155.5 839.5V900.94M184.5 839.5V932.13M214.5 839.5V963.32M243.5 839.5V994.51M273.5 839.5V1025.7M302.5 839.5V1056.89M332.5 839.5V1088.08M362.5 839.5V1119.27M391.5 839.5V1150.47M421.5 839.5V1181.66M450.5 839.5V1212.85M480.5 839.5V1244.04M509.5 839.5V1275.23M539.5 839.5V1306.42M569.5 839.5V1337.61M598.5 839.5V1368.8M628.5 839.5V1399.99M657.5 839.5V1430.04M140.26 854.5H672.45M169.84 885.5H672.45M199.41 916.5H672.45M228.99 947.5H672.45M258.57 978.5H672.45M288.14 1010.5H672.45M317.72 1041.5H672.45M347.3 1072.5H672.45M376.88 1103.5H672.45M406.45 1134.5H672.45M436.03 1166.5H672.45M465.61 1197.5H672.45M495.19 1228.5H672.45M524.76 1259.5H672.45M554.34 1290.5H672.45M583.92 1322.5H672.45M613.49 1353.5H672.45M643.07 1384.5H672.45" stroke="#bae3b2"/></g>
<path d="M155 854.5h1M184 854.5h1M214 854.5h1M243 854.5h1M273 854.5h1M302 854.5h1M332 854.5h1M362 854.5h1M391 854.5h1M421 854.5h1M450 854.5h1M480 854.5h1M509 854.5h1M539 854.5h1M569 854.5h1M598 854.5h1M628 854.5h1M657 854.5h1M184 885.5h1M214 885.5h1M243 885.5h1M273 885.5h1M302 885.5h1M332 885.5h1M362 885.5h1M391 885.5h1M421 885.5h1M450 885.5h1M480 885.5h1M509 885.5h1M539 885.5h1M569 885.5h1M598 885.5h1M628 885.5h1M657 885.5h1M214 916.5h1M243 916.5h1M273 916.5h1M302 916.5h1M332 916.5h1M362 916.5h1M391 916.5h1M421 916.5h1M450 916.5h1M480 916.5h1M509 916.5h1M539 916.5h1M569 916.5h1M598 916.5h1M628 916.5h1M657 916.5h1M243 947.5h1M273 947.5h1M302 947.5h1M332 947.5h1M362 947.5h1M391 947.5h1M421 947.5h1M450 947.5h1M480 947.5h1M509 947.5h1M539 947.5h1M569 947.5h1M598 947.5h1M628 947.5h1M657 947.5h1M273 978.5h1M302 978.5h1M332 978.5h1M362 978.5h1M391 978.5h1M421 978.5h1M450 978.5h1M480 978.5h1M509 978.5h1M539 978.5h1M569 978.5h1M598 978.5h1M628 978.5h1M657 978.5h1M302 1010.5h1M332 1010.5h1M362 1010.5h1M391 1010.5h1M421 1010.5h1M450 1010.5h1M480 1010.5h1M509 1010.5h1M539 1010.5h1M569 1010.5h1M598 1010.5h1M628 1010.5h1M657 1010.5h1M332 1041.5h1M362 1041.5h1M391 1041.5h1M421 1041.5h1M450 1041.5h1M480 1041.5h1M509 1041.5h1M539 1041.5h1M569 1041.5h1M598 1041.5h1M628 1041.5h1M657 1041.5h1M362 1072.5h1M391 1072.5h1M421 1072.5h1M450 1072.5h1M480 1072.5h1M509 1072.5h1M539 1072.5h1M569 1072.5h1M598 1072.5h1M628 1072.5h1M657 1072.5h1M391 1103.5h1M421 1103.5h1M450 1103.5h1M480 1103.5h1M509 1103.5h1M539 1103.5h1M569 1103.5h1M598 1103.5h1M628 1103.5h1M657 1103.5h1M421 1134.5h1M450 1134.5h1M480 1134.5h1M509 1134.5h1M539 1134.5h1M569 1134.5h1M598 1134.5h1M628 1134.5h1M657 1134.5h1M450 1166.5h1M480 1166.5h1M509 1166.5h1M539 1166.5h1M569 1166.5h1M598 1166.5h1M628 1166.5h1M657 1166.5h1M480 1197.5h1M509 1197.5h1M539 1197.5h1M569 1197.5h1M598 1197.5h1M628 1197.5h1M657 1197.5h1M509 1228.5h1M539 1228.5h1M569 1228.5h1M598 1228.5h1M628 1228.5h1M657 1228.5h1M539 1259.5h1M569 1259.5h1M598 1259.5h1M628 1259.5h1M657 1259.5h1M569 1290.5h1M598 1290.5h1M628 1290.5h1M657 1290.5h1M598 1322.5h1M628 1322.5h1M657 1322.5h1M628 1353.5h1M657 1353.5h1M657 1384.5h1" stroke="#8ccd7c" stroke-width="1" fill="none"/>
<path d="M125 854.5h1M125 885.5h1M155 885.5h1M125 916.5h1M155 916.5h1M184 916.5h1M125 947.5h1M155 947.5h1M184 947.5h1M214 947.5h1M125 978.5h1M155 978.5h1M184 978.5h1M214 978.5h1M243 978.5h1M125 1010.5h1M155 1010.5h1M184 1010.5h1M214 1010.5h1M243 1010.5h1M273 1010.5h1M125 1041.5h1M155 1041.5h1M184 1041.5h1M214 1041.5h1M243 1041.5h1M273 1041.5h1M302 1041.5h1M125 1072.5h1M155 1072.5h1M184 1072.5h1M214 1072.5h1M243 1072.5h1M273 1072.5h1M302 1072.5h1M332 1072.5h1M125 1103.5h1M155 1103.5h1M184 1103.5h1M214 1103.5h1M243 1103.5h1M273 1103.5h1M302 1103.5h1M332 1103.5h1M362 1103.5h1M125 1134.5h1M155 1134.5h1M184 1134.5h1M214 1134.5h1M243 1134.5h1M273 1134.5h1M302 1134.5h1M332 1134.5h1M362 1134.5h1M391 1134.5h1M125 1166.5h1M155 1166.5h1M184 1166.5h1M214 1166.5h1M243 1166.5h1M273 1166.5h1M302 1166.5h1M332 1166.5h1M362 1166.5h1M391 1166.5h1M421 1166.5h1M125 1197.5h1M155 1197.5h1M184 1197.5h1M214 1197.5h1M243 1197.5h1M273 1197.5h1M302 1197.5h1M332 1197.5h1M362 1197.5h1M391 1197.5h1M421 1197.5h1M450 1197.5h1M125 1228.5h1M155 1228.5h1M184 1228.5h1M214 1228.5h1M243 1228.5h1M273 1228.5h1M302 1228.5h1M332 1228.5h1M362 1228.5h1M391 1228.5h1M421 1228.5h1M450 1228.5h1M480 1228.5h1M125 1259.5h1M155 1259.5h1M184 1259.5h1M214 1259.5h1M243 1259.5h1M273 1259.5h1M302 1259.5h1M332 1259.5h1M362 1259.5h1M391 1259.5h1M421 1259.5h1M450 1259.5h1M480 1259.5h1M509 1259.5h1M125 1290.5h1M155 1290.5h1M184 1290.5h1M214 1290.5h1M243 1290.5h1M273 1290.5h1M302 1290.5h1M332 1290.5h1M362 1290.5h1M391 1290.5h1M421 1290.5h1M450 1290.5h1M480 1290.5h1M509 1290.5h1M539 1290.5h1M125 1322.5h1M155 1322.5h1M184 1322.5h1M214 1322.5h1M243 1322.5h1M273 1322.5h1M302 1322.5h1M332 1322.5h1M362 1322.5h1M391 1322.5h1M421 1322.5h1M450 1322.5h1M480 1322.5h1M509 1322.5h1M539 1322.5h1M569 1322.5h1M125 1353.5h1M155 1353.5h1M184 1353.5h1M214 1353.5h1M243 1353.5h1M273 1353.5h1M302 1353.5h1M332 1353.5h1M362 1353.5h1M391 1353.5h1M421 1353.5h1M450 1353.5h1M480 1353.5h1M509 1353.5h1M539 1353.5h1M569 1353.5h1M598 1353.5h1M125 1384.5h1M155 1384.5h1M184 1384.5h1M214 1384.5h1M243 1384.5h1M273 1384.5h1M302 1384.5h1M332 1384.5h1M362 1384.5h1M391 1384.5h1M421 1384.5h1M450 1384.5h1M480 1384.5h1M509 1384.5h1M539 1384.5h1M569 1384.5h1M598 1384.5h1M628 1384.5h1M125 1415.5h1M155 1415.5h1M184 1415.5h1M214 1415.5h1M243 1415.5h1M273 1415.5h1M302 1415.5h1M332 1415.5h1M362 1415.5h1M391 1415.5h1M421 1415.5h1M450 1415.5h1M480 1415.5h1M509 1415.5h1M539 1415.5h1M569 1415.5h1M598 1415.5h1M628 1415.5h1M657 1415.5h1" stroke="#d8d8e6" stroke-width="1" fill="none"/>
<path d="M228.99 839.5H258.57V869.75H228.99Z" fill="none" stroke="rgba(255,246,236,0.75)" stroke-width="2.2" clip-path="url(#cAr)"/>
<rect x="228.99" y="839.5" width="30.08" height="30.75" fill="#0080ff"/>
<path d="M243.5 839.5V869.75M228.99 854.5H258.57" stroke="rgba(0,0,50,0.10)" stroke-width="1"/>
<path d="M125.47 839.5v6M125.47 1430.04v-6M155.05 839.5v6M155.05 1430.04v-6M184.62 839.5v6M184.62 1430.04v-6M214.2 839.5v6M214.2 1430.04v-6M243.78 839.5v6M243.78 1430.04v-6M273.36 839.5v6M273.36 1430.04v-6M302.93 839.5v6M302.93 1430.04v-6M332.51 839.5v6M332.51 1430.04v-6M362.09 839.5v6M362.09 1430.04v-6M391.66 839.5v6M391.66 1430.04v-6M421.24 839.5v6M421.24 1430.04v-6M450.82 839.5v6M450.82 1430.04v-6M480.4 839.5v6M480.4 1430.04v-6M509.97 839.5v6M509.97 1430.04v-6M539.55 839.5v6M539.55 1430.04v-6M569.13 839.5v6M569.13 1430.04v-6M598.71 839.5v6M598.71 1430.04v-6M628.28 839.5v6M628.28 1430.04v-6M657.86 839.5v6M657.86 1430.04v-6M110.98 854.15h5.6M672.45 854.15h-5.6M110.98 885.34h5.6M672.45 885.34h-5.6M110.98 916.53h5.6M672.45 916.53h-5.6M110.98 947.72h5.6M672.45 947.72h-5.6M110.98 978.91h5.6M672.45 978.91h-5.6M110.98 1010.11h5.6M672.45 1010.11h-5.6M110.98 1041.3h5.6M672.45 1041.3h-5.6M110.98 1072.49h5.6M672.45 1072.49h-5.6M110.98 1103.68h5.6M672.45 1103.68h-5.6M110.98 1134.87h5.6M672.45 1134.87h-5.6M110.98 1166.06h5.6M672.45 1166.06h-5.6M110.98 1197.25h5.6M672.45 1197.25h-5.6M110.98 1228.44h5.6M672.45 1228.44h-5.6M110.98 1259.63h5.6M672.45 1259.63h-5.6M110.98 1290.83h5.6M672.45 1290.83h-5.6M110.98 1322.02h5.6M672.45 1322.02h-5.6M110.98 1353.21h5.6M672.45 1353.21h-5.6M110.98 1384.4h5.6M672.45 1384.4h-5.6M110.98 1415.59h5.6M672.45 1415.59h-5.6" stroke="rgba(255,255,255,0.25)" stroke-width="2.8" fill="none"/>
<path d="M125.47 839.5v6M125.47 1430.04v-6M155.05 839.5v6M155.05 1430.04v-6M184.62 839.5v6M184.62 1430.04v-6M214.2 839.5v6M214.2 1430.04v-6M243.78 839.5v6M243.78 1430.04v-6M273.36 839.5v6M273.36 1430.04v-6M302.93 839.5v6M302.93 1430.04v-6M332.51 839.5v6M332.51 1430.04v-6M362.09 839.5v6M362.09 1430.04v-6M391.66 839.5v6M391.66 1430.04v-6M421.24 839.5v6M421.24 1430.04v-6M450.82 839.5v6M450.82 1430.04v-6M480.4 839.5v6M480.4 1430.04v-6M509.97 839.5v6M509.97 1430.04v-6M539.55 839.5v6M539.55 1430.04v-6M569.13 839.5v6M569.13 1430.04v-6M598.71 839.5v6M598.71 1430.04v-6M628.28 839.5v6M628.28 1430.04v-6M657.86 839.5v6M657.86 1430.04v-6M110.98 854.15h5.6M672.45 854.15h-5.6M110.98 885.34h5.6M672.45 885.34h-5.6M110.98 916.53h5.6M672.45 916.53h-5.6M110.98 947.72h5.6M672.45 947.72h-5.6M110.98 978.91h5.6M672.45 978.91h-5.6M110.98 1010.11h5.6M672.45 1010.11h-5.6M110.98 1041.3h5.6M672.45 1041.3h-5.6M110.98 1072.49h5.6M672.45 1072.49h-5.6M110.98 1103.68h5.6M672.45 1103.68h-5.6M110.98 1134.87h5.6M672.45 1134.87h-5.6M110.98 1166.06h5.6M672.45 1166.06h-5.6M110.98 1197.25h5.6M672.45 1197.25h-5.6M110.98 1228.44h5.6M672.45 1228.44h-5.6M110.98 1259.63h5.6M672.45 1259.63h-5.6M110.98 1290.83h5.6M672.45 1290.83h-5.6M110.98 1322.02h5.6M672.45 1322.02h-5.6M110.98 1353.21h5.6M672.45 1353.21h-5.6M110.98 1384.4h5.6M672.45 1384.4h-5.6M110.98 1415.59h5.6M672.45 1415.59h-5.6" stroke="#3a3a3a" stroke-width="1.25" fill="none"/>
<rect x="110.98" y="839.5" width="561.47" height="590.54" fill="none" stroke="#3a3a3a" stroke-width="1.2"/>
<g font-size="18.3" fill="#262626"><text transform="translate(125.47,828.5) scale(1,1.04)" text-anchor="middle">Fz</text><text transform="translate(155.05,828.5) scale(1,1.04)" text-anchor="middle">F3</text><text transform="translate(184.62,828.5) scale(1,1.04)" text-anchor="middle">FC5</text><text transform="translate(214.2,828.5) scale(1,1.04)" text-anchor="middle">FC1</text><text transform="translate(243.78,828.5) scale(1,1.04)" text-anchor="middle">C3</text><text transform="translate(273.36,828.5) scale(1,1.04)" text-anchor="middle">CP5</text><text transform="translate(302.93,828.5) scale(1,1.04)" text-anchor="middle">CP1</text><text transform="translate(332.51,828.5) scale(1,1.04)" text-anchor="middle">Pz</text><text transform="translate(362.09,828.5) scale(1,1.04)" text-anchor="middle">P3</text><text transform="translate(391.66,828.5) scale(1,1.04)" text-anchor="middle">O1</text><text transform="translate(421.24,828.5) scale(1,1.04)" text-anchor="middle">Oz</text><text transform="translate(450.82,828.5) scale(1,1.04)" text-anchor="middle">O2</text><text transform="translate(480.4,828.5) scale(1,1.04)" text-anchor="middle">P4</text><text transform="translate(509.97,828.5) scale(1,1.04)" text-anchor="middle">CP6</text><text transform="translate(539.55,828.5) scale(1,1.04)" text-anchor="middle">CP2</text><text transform="translate(569.13,828.5) scale(1,1.04)" text-anchor="middle">C4</text><text transform="translate(598.71,828.5) scale(1,1.04)" text-anchor="middle">FC6</text><text transform="translate(628.28,828.5) scale(1,1.04)" text-anchor="middle">FC2</text><text transform="translate(657.86,828.5) scale(1,1.04)" text-anchor="middle">F4</text><text transform="translate(678.85,861.45) scale(1,1.04)">Fz</text><text transform="translate(678.85,892.6) scale(1,1.04)">F3</text><text transform="translate(678.85,923.75) scale(1,1.04)">FC5</text><text transform="translate(678.85,954.91) scale(1,1.04)">FC1</text><text transform="translate(678.85,986.06) scale(1,1.04)">C3</text><text transform="translate(678.85,1017.21) scale(1,1.04)">CP5</text><text transform="translate(678.85,1048.36) scale(1,1.04)">CP1</text><text transform="translate(678.85,1079.52) scale(1,1.04)">Pz</text><text transform="translate(678.85,1110.67) scale(1,1.04)">P3</text><text transform="translate(678.85,1141.82) scale(1,1.04)">O1</text><text transform="translate(678.85,1172.97) scale(1,1.04)">Oz</text><text transform="translate(678.85,1204.12) scale(1,1.04)">O2</text><text transform="translate(678.85,1235.28) scale(1,1.04)">P4</text><text transform="translate(678.85,1266.43) scale(1,1.04)">CP6</text><text transform="translate(678.85,1297.58) scale(1,1.04)">CP2</text><text transform="translate(678.85,1328.73) scale(1,1.04)">C4</text><text transform="translate(678.85,1359.89) scale(1,1.04)">FC6</text><text transform="translate(678.85,1391.04) scale(1,1.04)">FC2</text><text transform="translate(678.85,1422.19) scale(1,1.04)">F4</text></g>
<clipPath id="cBr"><polygon points="864.26,842 1394.85,842 1394.85,1399.99 1396.65,1399.99 1367.07,1399.99 1367.07,1368.8 1337.49,1368.8 1337.49,1337.61 1307.92,1337.61 1307.92,1306.42 1278.34,1306.42 1278.34,1275.23 1248.76,1275.23 1248.76,1244.04 1219.19,1244.04 1219.19,1212.85 1189.61,1212.85 1189.61,1181.66 1160.03,1181.66 1160.03,1150.47 1130.45,1150.47 1130.45,1119.27 1100.88,1119.27 1100.88,1088.08 1071.3,1088.08 1071.3,1056.89 1041.72,1056.89 1041.72,1025.7 1012.14,1025.7 1012.14,994.51 982.57,994.51 982.57,963.32 952.99,963.32 952.99,932.13 923.41,932.13 923.41,900.94 893.84,900.94 893.84,869.75 864.26,869.75 864.26,842"/></clipPath>
<polygon points="864.26,842 1394.85,842 1394.85,1399.99 1396.65,1399.99 1367.07,1399.99 1367.07,1368.8 1337.49,1368.8 1337.49,1337.61 1307.92,1337.61 1307.92,1306.42 1278.34,1306.42 1278.34,1275.23 1248.76,1275.23 1248.76,1244.04 1219.19,1244.04 1219.19,1212.85 1189.61,1212.85 1189.61,1181.66 1160.03,1181.66 1160.03,1150.47 1130.45,1150.47 1130.45,1119.27 1100.88,1119.27 1100.88,1088.08 1071.3,1088.08 1071.3,1056.89 1041.72,1056.89 1041.72,1025.7 1012.14,1025.7 1012.14,994.51 982.57,994.51 982.57,963.32 952.99,963.32 952.99,932.13 923.41,932.13 923.41,900.94 893.84,900.94 893.84,869.75 864.26,869.75 864.26,842" fill="#eaeaea"/>
<g clip-path="url(#cBr)" fill="none" stroke-width="1"><path d="M880.5 839.5V900.94M909.5 839.5V932.13M939.5 839.5V963.32M968.5 839.5V994.51M998.5 839.5V1025.7M1027.5 839.5V1056.89M1057.5 839.5V1088.08M1087.5 839.5V1119.27M1116.5 839.5V1150.47M1146.5 839.5V1181.66M1175.5 839.5V1212.85M1205.5 839.5V1244.04M1234.5 839.5V1275.23M1264.5 839.5V1306.42M1294.5 839.5V1337.61M1323.5 839.5V1368.8M1353.5 839.5V1399.99M1382.5 839.5V1430.04M864.26 855.5H1396.45M893.84 886.5H1396.45M923.41 917.5H1396.45M952.99 948.5H1396.45M982.57 979.5H1396.45M1012.14 1011.5H1396.45M1041.72 1042.5H1396.45M1071.3 1073.5H1396.45M1100.88 1104.5H1396.45M1130.45 1135.5H1396.45M1160.03 1167.5H1396.45M1189.61 1198.5H1396.45M1219.19 1229.5H1396.45M1248.76 1260.5H1396.45M1278.34 1291.5H1396.45M1307.92 1323.5H1396.45M1337.49 1354.5H1396.45M1367.07 1385.5H1396.45" stroke="#dce8da"/><path d="M879.5 839.5V900.94M908.5 839.5V932.13M938.5 839.5V963.32M967.5 839.5V994.51M997.5 839.5V1025.7M1026.5 839.5V1056.89M1056.5 839.5V1088.08M1086.5 839.5V1119.27M1115.5 839.5V1150.47M1145.5 839.5V1181.66M1174.5 839.5V1212.85M1204.5 839.5V1244.04M1233.5 839.5V1275.23M1263.5 839.5V1306.42M1293.5 839.5V1337.61M1322.5 839.5V1368.8M1352.5 839.5V1399.99M1381.5 839.5V1430.04M864.26 854.5H1396.45M893.84 885.5H1396.45M923.41 916.5H1396.45M952.99 947.5H1396.45M982.57 978.5H1396.45M1012.14 1010.5H1396.45M1041.72 1041.5H1396.45M1071.3 1072.5H1396.45M1100.88 1103.5H1396.45M1130.45 1134.5H1396.45M1160.03 1166.5H1396.45M1189.61 1197.5H1396.45M1219.19 1228.5H1396.45M1248.76 1259.5H1396.45M1278.34 1290.5H1396.45M1307.92 1322.5H1396.45M1337.49 1353.5H1396.45M1367.07 1384.5H1396.45" stroke="#bae3b2"/></g>
<path d="M879 854.5h1M908 854.5h1M938 854.5h1M967 854.5h1M997 854.5h1M1026 854.5h1M1056 854.5h1M1086 854.5h1M1115 854.5h1M1145 854.5h1M1174 854.5h1M1204 854.5h1M1233 854.5h1M1263 854.5h1M1293 854.5h1M1322 854.5h1M1352 854.5h1M1381 854.5h1M908 885.5h1M938 885.5h1M967 885.5h1M997 885.5h1M1026 885.5h1M1056 885.5h1M1086 885.5h1M1115 885.5h1M1145 885.5h1M1174 885.5h1M1204 885.5h1M1233 885.5h1M1263 885.5h1M1293 885.5h1M1322 885.5h1M1352 885.5h1M1381 885.5h1M938 916.5h1M967 916.5h1M997 916.5h1M1026 916.5h1M1056 916.5h1M1086 916.5h1M1115 916.5h1M1145 916.5h1M1174 916.5h1M1204 916.5h1M1233 916.5h1M1263 916.5h1M1293 916.5h1M1322 916.5h1M1352 916.5h1M1381 916.5h1M967 947.5h1M997 947.5h1M1026 947.5h1M1056 947.5h1M1086 947.5h1M1115 947.5h1M1145 947.5h1M1174 947.5h1M1204 947.5h1M1233 947.5h1M1263 947.5h1M1293 947.5h1M1322 947.5h1M1352 947.5h1M1381 947.5h1M997 978.5h1M1026 978.5h1M1056 978.5h1M1086 978.5h1M1115 978.5h1M1145 978.5h1M1174 978.5h1M1204 978.5h1M1233 978.5h1M1263 978.5h1M1293 978.5h1M1322 978.5h1M1352 978.5h1M1381 978.5h1M1026 1010.5h1M1056 1010.5h1M1086 1010.5h1M1115 1010.5h1M1145 1010.5h1M1174 1010.5h1M1204 1010.5h1M1233 1010.5h1M1263 1010.5h1M1293 1010.5h1M1322 1010.5h1M1352 1010.5h1M1381 1010.5h1M1056 1041.5h1M1086 1041.5h1M1115 1041.5h1M1145 1041.5h1M1174 1041.5h1M1204 1041.5h1M1233 1041.5h1M1263 1041.5h1M1293 1041.5h1M1322 1041.5h1M1352 1041.5h1M1381 1041.5h1M1086 1072.5h1M1115 1072.5h1M1145 1072.5h1M1174 1072.5h1M1204 1072.5h1M1233 1072.5h1M1263 1072.5h1M1293 1072.5h1M1322 1072.5h1M1352 1072.5h1M1381 1072.5h1M1115 1103.5h1M1145 1103.5h1M1174 1103.5h1M1204 1103.5h1M1233 1103.5h1M1263 1103.5h1M1293 1103.5h1M1322 1103.5h1M1352 1103.5h1M1381 1103.5h1M1145 1134.5h1M1174 1134.5h1M1204 1134.5h1M1233 1134.5h1M1263 1134.5h1M1293 1134.5h1M1322 1134.5h1M1352 1134.5h1M1381 1134.5h1M1174 1166.5h1M1204 1166.5h1M1233 1166.5h1M1263 1166.5h1M1293 1166.5h1M1322 1166.5h1M1352 1166.5h1M1381 1166.5h1M1204 1197.5h1M1233 1197.5h1M1263 1197.5h1M1293 1197.5h1M1322 1197.5h1M1352 1197.5h1M1381 1197.5h1M1233 1228.5h1M1263 1228.5h1M1293 1228.5h1M1322 1228.5h1M1352 1228.5h1M1381 1228.5h1M1263 1259.5h1M1293 1259.5h1M1322 1259.5h1M1352 1259.5h1M1381 1259.5h1M1293 1290.5h1M1322 1290.5h1M1352 1290.5h1M1381 1290.5h1M1322 1322.5h1M1352 1322.5h1M1381 1322.5h1M1352 1353.5h1M1381 1353.5h1M1381 1384.5h1" stroke="#8ccd7c" stroke-width="1" fill="none"/>
<path d="M849 854.5h1M849 885.5h1M879 885.5h1M849 916.5h1M879 916.5h1M908 916.5h1M849 947.5h1M879 947.5h1M908 947.5h1M938 947.5h1M849 978.5h1M879 978.5h1M908 978.5h1M938 978.5h1M967 978.5h1M849 1010.5h1M879 1010.5h1M908 1010.5h1M938 1010.5h1M967 1010.5h1M997 1010.5h1M849 1041.5h1M879 1041.5h1M908 1041.5h1M938 1041.5h1M967 1041.5h1M997 1041.5h1M1026 1041.5h1M849 1072.5h1M879 1072.5h1M908 1072.5h1M938 1072.5h1M967 1072.5h1M997 1072.5h1M1026 1072.5h1M1056 1072.5h1M849 1103.5h1M879 1103.5h1M908 1103.5h1M938 1103.5h1M967 1103.5h1M997 1103.5h1M1026 1103.5h1M1056 1103.5h1M1086 1103.5h1M849 1134.5h1M879 1134.5h1M908 1134.5h1M938 1134.5h1M967 1134.5h1M997 1134.5h1M1026 1134.5h1M1056 1134.5h1M1086 1134.5h1M1115 1134.5h1M849 1166.5h1M879 1166.5h1M908 1166.5h1M938 1166.5h1M967 1166.5h1M997 1166.5h1M1026 1166.5h1M1056 1166.5h1M1086 1166.5h1M1115 1166.5h1M1145 1166.5h1M849 1197.5h1M879 1197.5h1M908 1197.5h1M938 1197.5h1M967 1197.5h1M997 1197.5h1M1026 1197.5h1M1056 1197.5h1M1086 1197.5h1M1115 1197.5h1M1145 1197.5h1M1174 1197.5h1M849 1228.5h1M879 1228.5h1M908 1228.5h1M938 1228.5h1M967 1228.5h1M997 1228.5h1M1026 1228.5h1M1056 1228.5h1M1086 1228.5h1M1115 1228.5h1M1145 1228.5h1M1174 1228.5h1M1204 1228.5h1M849 1259.5h1M879 1259.5h1M908 1259.5h1M938 1259.5h1M967 1259.5h1M997 1259.5h1M1026 1259.5h1M1056 1259.5h1M1086 1259.5h1M1115 1259.5h1M1145 1259.5h1M1174 1259.5h1M1204 1259.5h1M1233 1259.5h1M849 1290.5h1M879 1290.5h1M908 1290.5h1M938 1290.5h1M967 1290.5h1M997 1290.5h1M1026 1290.5h1M1056 1290.5h1M1086 1290.5h1M1115 1290.5h1M1145 1290.5h1M1174 1290.5h1M1204 1290.5h1M1233 1290.5h1M1263 1290.5h1M849 1322.5h1M879 1322.5h1M908 1322.5h1M938 1322.5h1M967 1322.5h1M997 1322.5h1M1026 1322.5h1M1056 1322.5h1M1086 1322.5h1M1115 1322.5h1M1145 1322.5h1M1174 1322.5h1M1204 1322.5h1M1233 1322.5h1M1263 1322.5h1M1293 1322.5h1M849 1353.5h1M879 1353.5h1M908 1353.5h1M938 1353.5h1M967 1353.5h1M997 1353.5h1M1026 1353.5h1M1056 1353.5h1M1086 1353.5h1M1115 1353.5h1M1145 1353.5h1M1174 1353.5h1M1204 1353.5h1M1233 1353.5h1M1263 1353.5h1M1293 1353.5h1M1322 1353.5h1M849 1384.5h1M879 1384.5h1M908 1384.5h1M938 1384.5h1M967 1384.5h1M997 1384.5h1M1026 1384.5h1M1056 1384.5h1M1086 1384.5h1M1115 1384.5h1M1145 1384.5h1M1174 1384.5h1M1204 1384.5h1M1233 1384.5h1M1263 1384.5h1M1293 1384.5h1M1322 1384.5h1M1352 1384.5h1M849 1415.5h1M879 1415.5h1M908 1415.5h1M938 1415.5h1M967 1415.5h1M997 1415.5h1M1026 1415.5h1M1056 1415.5h1M1086 1415.5h1M1115 1415.5h1M1145 1415.5h1M1174 1415.5h1M1204 1415.5h1M1233 1415.5h1M1263 1415.5h1M1293 1415.5h1M1322 1415.5h1M1352 1415.5h1M1381 1415.5h1" stroke="#d8d8e6" stroke-width="1" fill="none"/>
<path d="M952.99 839.5H982.57V869.75H952.99Z" fill="none" stroke="rgba(255,246,236,0.75)" stroke-width="2.2" clip-path="url(#cBr)"/>
<rect x="952.99" y="839.5" width="30.08" height="30.75" fill="#0080ff"/>
<path d="M967.5 839.5V869.75M952.99 854.5H982.57" stroke="rgba(0,0,50,0.10)" stroke-width="1"/>
<path d="M849.47 839.5v6M849.47 1430.04v-6M879.05 839.5v6M879.05 1430.04v-6M908.62 839.5v6M908.62 1430.04v-6M938.2 839.5v6M938.2 1430.04v-6M967.78 839.5v6M967.78 1430.04v-6M997.36 839.5v6M997.36 1430.04v-6M1026.93 839.5v6M1026.93 1430.04v-6M1056.51 839.5v6M1056.51 1430.04v-6M1086.09 839.5v6M1086.09 1430.04v-6M1115.66 839.5v6M1115.66 1430.04v-6M1145.24 839.5v6M1145.24 1430.04v-6M1174.82 839.5v6M1174.82 1430.04v-6M1204.4 839.5v6M1204.4 1430.04v-6M1233.97 839.5v6M1233.97 1430.04v-6M1263.55 839.5v6M1263.55 1430.04v-6M1293.13 839.5v6M1293.13 1430.04v-6M1322.71 839.5v6M1322.71 1430.04v-6M1352.28 839.5v6M1352.28 1430.04v-6M1381.86 839.5v6M1381.86 1430.04v-6M834.98 854.15h5.6M1396.45 854.15h-5.6M834.98 885.34h5.6M1396.45 885.34h-5.6M834.98 916.53h5.6M1396.45 916.53h-5.6M834.98 947.72h5.6M1396.45 947.72h-5.6M834.98 978.91h5.6M1396.45 978.91h-5.6M834.98 1010.11h5.6M1396.45 1010.11h-5.6M834.98 1041.3h5.6M1396.45 1041.3h-5.6M834.98 1072.49h5.6M1396.45 1072.49h-5.6M834.98 1103.68h5.6M1396.45 1103.68h-5.6M834.98 1134.87h5.6M1396.45 1134.87h-5.6M834.98 1166.06h5.6M1396.45 1166.06h-5.6M834.98 1197.25h5.6M1396.45 1197.25h-5.6M834.98 1228.44h5.6M1396.45 1228.44h-5.6M834.98 1259.63h5.6M1396.45 1259.63h-5.6M834.98 1290.83h5.6M1396.45 1290.83h-5.6M834.98 1322.02h5.6M1396.45 1322.02h-5.6M834.98 1353.21h5.6M1396.45 1353.21h-5.6M834.98 1384.4h5.6M1396.45 1384.4h-5.6M834.98 1415.59h5.6M1396.45 1415.59h-5.6" stroke="rgba(255,255,255,0.25)" stroke-width="2.8" fill="none"/>
<path d="M849.47 839.5v6M849.47 1430.04v-6M879.05 839.5v6M879.05 1430.04v-6M908.62 839.5v6M908.62 1430.04v-6M938.2 839.5v6M938.2 1430.04v-6M967.78 839.5v6M967.78 1430.04v-6M997.36 839.5v6M997.36 1430.04v-6M1026.93 839.5v6M1026.93 1430.04v-6M1056.51 839.5v6M1056.51 1430.04v-6M1086.09 839.5v6M1086.09 1430.04v-6M1115.66 839.5v6M1115.66 1430.04v-6M1145.24 839.5v6M1145.24 1430.04v-6M1174.82 839.5v6M1174.82 1430.04v-6M1204.4 839.5v6M1204.4 1430.04v-6M1233.97 839.5v6M1233.97 1430.04v-6M1263.55 839.5v6M1263.55 1430.04v-6M1293.13 839.5v6M1293.13 1430.04v-6M1322.71 839.5v6M1322.71 1430.04v-6M1352.28 839.5v6M1352.28 1430.04v-6M1381.86 839.5v6M1381.86 1430.04v-6M834.98 854.15h5.6M1396.45 854.15h-5.6M834.98 885.34h5.6M1396.45 885.34h-5.6M834.98 916.53h5.6M1396.45 916.53h-5.6M834.98 947.72h5.6M1396.45 947.72h-5.6M834.98 978.91h5.6M1396.45 978.91h-5.6M834.98 1010.11h5.6M1396.45 1010.11h-5.6M834.98 1041.3h5.6M1396.45 1041.3h-5.6M834.98 1072.49h5.6M1396.45 1072.49h-5.6M834.98 1103.68h5.6M1396.45 1103.68h-5.6M834.98 1134.87h5.6M1396.45 1134.87h-5.6M834.98 1166.06h5.6M1396.45 1166.06h-5.6M834.98 1197.25h5.6M1396.45 1197.25h-5.6M834.98 1228.44h5.6M1396.45 1228.44h-5.6M834.98 1259.63h5.6M1396.45 1259.63h-5.6M834.98 1290.83h5.6M1396.45 1290.83h-5.6M834.98 1322.02h5.6M1396.45 1322.02h-5.6M834.98 1353.21h5.6M1396.45 1353.21h-5.6M834.98 1384.4h5.6M1396.45 1384.4h-5.6M834.98 1415.59h5.6M1396.45 1415.59h-5.6" stroke="#3a3a3a" stroke-width="1.25" fill="none"/>
<rect x="834.98" y="839.5" width="561.47" height="590.54" fill="none" stroke="#3a3a3a" stroke-width="1.2"/>
<g font-size="18.3" fill="#262626"><text transform="translate(849.47,828.5) scale(1,1.04)" text-anchor="middle">Fz</text><text transform="translate(879.05,828.5) scale(1,1.04)" text-anchor="middle">F3</text><text transform="translate(908.62,828.5) scale(1,1.04)" text-anchor="middle">FC5</text><text transform="translate(938.2,828.5) scale(1,1.04)" text-anchor="middle">FC1</text><text transform="translate(967.78,828.5) scale(1,1.04)" text-anchor="middle">C3</text><text transform="translate(997.36,828.5) scale(1,1.04)" text-anchor="middle">CP5</text><text transform="translate(1026.93,828.5) scale(1,1.04)" text-anchor="middle">CP1</text><text transform="translate(1056.51,828.5) scale(1,1.04)" text-anchor="middle">Pz</text><text transform="translate(1086.09,828.5) scale(1,1.04)" text-anchor="middle">P3</text><text transform="translate(1115.66,828.5) scale(1,1.04)" text-anchor="middle">O1</text><text transform="translate(1145.24,828.5) scale(1,1.04)" text-anchor="middle">Oz</text><text transform="translate(1174.82,828.5) scale(1,1.04)" text-anchor="middle">O2</text><text transform="translate(1204.4,828.5) scale(1,1.04)" text-anchor="middle">P4</text><text transform="translate(1233.97,828.5) scale(1,1.04)" text-anchor="middle">CP6</text><text transform="translate(1263.55,828.5) scale(1,1.04)" text-anchor="middle">CP2</text><text transform="translate(1293.13,828.5) scale(1,1.04)" text-anchor="middle">C4</text><text transform="translate(1322.71,828.5) scale(1,1.04)" text-anchor="middle">FC6</text><text transform="translate(1352.28,828.5) scale(1,1.04)" text-anchor="middle">FC2</text><text transform="translate(1381.86,828.5) scale(1,1.04)" text-anchor="middle">F4</text><text transform="translate(1402.85,861.45) scale(1,1.04)">Fz</text><text transform="translate(1402.85,892.6) scale(1,1.04)">F3</text><text transform="translate(1402.85,923.75) scale(1,1.04)">FC5</text><text transform="translate(1402.85,954.91) scale(1,1.04)">FC1</text><text transform="translate(1402.85,986.06) scale(1,1.04)">C3</text><text transform="translate(1402.85,1017.21) scale(1,1.04)">CP5</text><text transform="translate(1402.85,1048.36) scale(1,1.04)">CP1</text><text transform="translate(1402.85,1079.52) scale(1,1.04)">Pz</text><text transform="translate(1402.85,1110.67) scale(1,1.04)">P3</text><text transform="translate(1402.85,1141.82) scale(1,1.04)">O1</text><text transform="translate(1402.85,1172.97) scale(1,1.04)">Oz</text><text transform="translate(1402.85,1204.12) scale(1,1.04)">O2</text><text transform="translate(1402.85,1235.28) scale(1,1.04)">P4</text><text transform="translate(1402.85,1266.43) scale(1,1.04)">CP6</text><text transform="translate(1402.85,1297.58) scale(1,1.04)">CP2</text><text transform="translate(1402.85,1328.73) scale(1,1.04)">C4</text><text transform="translate(1402.85,1359.89) scale(1,1.04)">FC6</text><text transform="translate(1402.85,1391.04) scale(1,1.04)">FC2</text><text transform="translate(1402.85,1422.19) scale(1,1.04)">F4</text></g>
<g font-size="77.5" fill="#0a0404"><text x="1.04" y="59.5">A.</text><text x="109.7" y="59.5">theta</text><text x="832.4" y="59.7">B.</text><text x="939.5" y="59.7">alpha</text></g>
<text font-size="78.5" fill="#0a0404" transform="translate(58.8,515.6) rotate(-90)">test</text>
<text font-size="78.5" fill="#0a0404" transform="translate(55.9,1304.1) rotate(-90)">retest</text>
<text font-size="63" fill="#0a0404" transform="translate(1508.98,279.4) scale(1.035,1)">rho</text>
<g filter="url(#bl)"><rect x="1521.5" y="1417.65" width="32.0" height="17.85" fill="#00008f"/><rect x="1521.5" y="1400.4" width="32.0" height="17.85" fill="#00009f"/><rect x="1521.5" y="1383.15" width="32.0" height="17.85" fill="#0000af"/><rect x="1521.5" y="1365.9" width="32.0" height="17.85" fill="#0000bf"/><rect x="1521.5" y="1348.65" width="32.0" height="17.85" fill="#0000cf"/><rect x="1521.5" y="1331.4" width="32.0" height="17.85" fill="#0000df"/><rect x="1521.5" y="1314.15" width="32.0" height="17.85" fill="#0000ef"/><rect x="1521.5" y="1296.9" width="32.0" height="17.85" fill="#0000ff"/><rect x="1521.5" y="1279.65" width="32.0" height="17.85" fill="#0010ff"/><rect x="1521.5" y="1262.4" width="32.0" height="17.85" fill="#0020ff"/><rect x="1521.5" y="1245.15" width="32.0" height="17.85" fill="#0030ff"/><rect x="1521.5" y="1227.9" width="32.0" height="17.85" fill="#0040ff"/><rect x="1521.5" y="1210.65" width="32.0" height="17.85" fill="#0050ff"/><rect x="1521.5" y="1193.4" width="32.0" height="17.85" fill="#0060ff"/><rect x="1521.5" y="1176.15" width="32.0" height="17.85" fill="#0070ff"/><rect x="1521.5" y="1158.9" width="32.0" height="17.85" fill="#0080ff"/><rect x="1521.5" y="1141.65" width="32.0" height="17.85" fill="#008fff"/><rect x="1521.5" y="1124.4" width="32.0" height="17.85" fill="#009fff"/><rect x="1521.5" y="1107.15" width="32.0" height="17.85" fill="#00afff"/><rect x="1521.5" y="1089.9" width="32.0" height="17.85" fill="#00bfff"/><rect x="1521.5" y="1072.65" width="32.0" height="17.85" fill="#00cfff"/><rect x="1521.5" y="1055.4" width="32.0" height="17.85" fill="#00dfff"/><rect x="1521.5" y="1038.15" width="32.0" height="17.85" fill="#00efff"/><rect x="1521.5" y="1020.9" width="32.0" height="17.85" fill="#00ffff"/><rect x="1521.5" y="1003.65" width="32.0" height="17.85" fill="#10ffef"/><rect x="1521.5" y="986.4" width="32.0" height="17.85" fill="#20ffdf"/><rect x="1521.5" y="969.15" width="32.0" height="17.85" fill="#30ffcf"/><rect x="1521.5" y="951.9" width="32.0" height="17.85" fill="#40ffbf"/><rect x="1521.5" y="934.65" width="32.0" height="17.85" fill="#50ffaf"/><rect x="1521.5" y="917.4" width="32.0" height="17.85" fill="#60ff9f"/><rect x="1521.5" y="900.15" width="32.0" height="17.85" fill="#70ff8f"/><rect x="1521.5" y="882.9" width="32.0" height="17.85" fill="#80ff80"/><rect x="1521.5" y="865.65" width="32.0" height="17.85" fill="#8fff70"/><rect x="1521.5" y="848.4" width="32.0" height="17.85" fill="#9fff60"/><rect x="1521.5" y="831.15" width="32.0" height="17.85" fill="#afff50"/><rect x="1521.5" y="813.9" width="32.0" height="17.85" fill="#bfff40"/><rect x="1521.5" y="796.65" width="32.0" height="17.85" fill="#cfff30"/><rect x="1521.5" y="779.4" width="32.0" height="17.85" fill="#dfff20"/><rect x="1521.5" y="762.15" width="32.0" height="17.85" fill="#efff10"/><rect x="1521.5" y="744.9" width="32.0" height="17.85" fill="#ffff00"/><rect x="1521.5" y="727.65" width="32.0" height="17.85" fill="#ffef00"/><rect x="1521.5" y="710.4" width="32.0" height="17.85" fill="#ffdf00"/><rect x="1521.5" y="693.15" width="32.0" height="17.85" fill="#ffcf00"/><rect x="1521.5" y="675.9" width="32.0" height="17.85" fill="#ffbf00"/><rect x="1521.5" y="658.65" width="32.0" height="17.85" fill="#ffaf00"/><rect x="1521.5" y="641.4" width="32.0" height="17.85" fill="#ff9f00"/><rect x="1521.5" y="624.15" width="32.0" height="17.85" fill="#ff8f00"/><rect x="1521.5" y="606.9" width="32.0" height="17.85" fill="#ff8000"/><rect x="1521.5" y="589.65" width="32.0" height="17.85" fill="#ff7000"/><rect x="1521.5" y="572.4" width="32.0" height="17.85" fill="#ff6000"/><rect x="1521.5" y="555.15" width="32.0" height="17.85" fill="#ff5000"/><rect x="1521.5" y="537.9" width="32.0" height="17.85" fill="#ff4000"/><rect x="1521.5" y="520.65" width="32.0" height="17.85" fill="#ff3000"/><rect x="1521.5" y="503.4" width="32.0" height="17.85" fill="#ff2000"/><rect x="1521.5" y="486.15" width="32.0" height="17.85" fill="#ff1000"/><rect x="1521.5" y="468.9" width="32.0" height="17.85" fill="#ff0000"/><rect x="1521.5" y="451.65" width="32.0" height="17.85" fill="#ef0000"/><rect x="1521.5" y="434.4" width="32.0" height="17.85" fill="#df0000"/><rect x="1521.5" y="417.15" width="32.0" height="17.85" fill="#cf0000"/><rect x="1521.5" y="399.9" width="32.0" height="17.85" fill="#bf0000"/><rect x="1521.5" y="382.65" width="32.0" height="17.85" fill="#af0000"/><rect x="1521.5" y="365.4" width="32.0" height="17.85" fill="#9f0000"/><rect x="1521.5" y="348.15" width="32.0" height="17.85" fill="#8f0000"/><rect x="1521.5" y="330.9" width="32.0" height="17.25" fill="#800000"/><path d="M1544.5 1434.9h9M1544.5 1324.5h9M1544.5 1214.1h9M1544.5 1103.7h9M1544.5 993.3h9M1544.5 882.9h9M1544.5 772.5h9M1544.5 662.1h9M1544.5 551.7h9M1544.5 441.3h9M1544.5 330.9h9" stroke="rgba(60,60,60,0.3)" stroke-width="1.5"/><rect x="1521.5" y="330.9" width="32.0" height="1104" fill="none" stroke="#8a8a8a" stroke-width="1"/></g>
<g font-size="39" fill="#727272" filter="url(#bl2)"><text x="1564.8" y="1449.12">-1</text><text x="1564.8" y="1338.72">-0.8</text><text x="1564.8" y="1228.32">-0.6</text><text x="1564.8" y="1117.92">-0.4</text><text x="1564.8" y="1007.52">-0.2</text><text x="1564.8" y="897.12">0</text><text x="1564.8" y="786.72">0.2</text><text x="1564.8" y="676.32">0.4</text><text x="1564.8" y="565.92">0.6</text><text x="1564.8" y="455.52">0.8</text><text x="1564.8" y="345.12">1</text></g>
</svg></body></html>
